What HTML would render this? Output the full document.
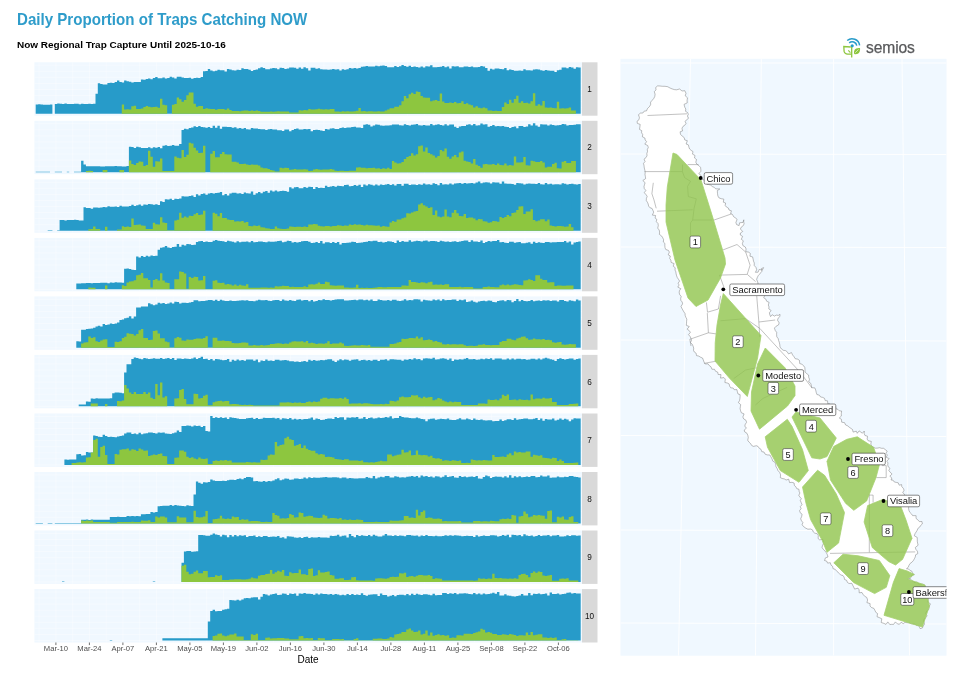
<!DOCTYPE html>
<html><head><meta charset="utf-8"><title>Daily Proportion of Traps Catching NOW</title>
<style>
html,body{margin:0;padding:0;background:#fff;}
body{width:970px;height:686px;overflow:hidden;position:relative;font-family:"Liberation Sans",Arial,sans-serif;}
h1{position:absolute;left:17px;top:11px;margin:0;font-size:15.7px;line-height:18px;font-weight:bold;color:#2e9cca;white-space:nowrap;transform:scaleX(0.9628);transform-origin:0 0;}
h2{position:absolute;left:17px;top:39px;margin:0;font-size:9.97px;line-height:12px;font-weight:bold;color:#000;white-space:nowrap;}
svg{position:absolute;left:0;top:0;}
svg text{font-family:"Liberation Sans",Arial,sans-serif;}
</style></head><body>
<h1>Daily Proportion of Traps Catching NOW</h1>
<h2>Now Regional Trap Capture Until 2025-10-16</h2>
<svg width="970" height="686" viewBox="0 0 970 686">
<rect x="34.4" y="62.3" width="547.6" height="53.4" fill="#f0f8ff"/>
<path d="M39.1,62.3V115.7M55.9,62.3V115.7M72.7,62.3V115.7M89.4,62.3V115.7M106.2,62.3V115.7M122.9,62.3V115.7M139.7,62.3V115.7M156.4,62.3V115.7M173.2,62.3V115.7M189.9,62.3V115.7M206.7,62.3V115.7M223.4,62.3V115.7M240.2,62.3V115.7M256.9,62.3V115.7M273.6,62.3V115.7M290.4,62.3V115.7M307.1,62.3V115.7M323.9,62.3V115.7M340.6,62.3V115.7M357.4,62.3V115.7M374.1,62.3V115.7M390.9,62.3V115.7M407.6,62.3V115.7M424.4,62.3V115.7M441.1,62.3V115.7M457.9,62.3V115.7M474.6,62.3V115.7M491.4,62.3V115.7M508.1,62.3V115.7M524.9,62.3V115.7M541.6,62.3V115.7M558.4,62.3V115.7M575.1,62.3V115.7M34.4,113.7H582.0M34.4,107.6H582.0M34.4,101.6H582.0M34.4,95.5H582.0M34.4,89.5H582.0M34.4,83.4H582.0M34.4,77.3H582.0M34.4,71.3H582.0M34.4,65.2H582.0" stroke="#fff" stroke-width="0.6" fill="none" opacity="0.6"/>
<path d="M35.7,113.7L35.7,104.5L38.1,104.5L38.1,104.3L40.5,104.3L40.5,104.4L42.9,104.4L42.9,104.7L45.3,104.7L45.3,104.7L47.7,104.7L47.7,104.7L50.0,104.7L50.0,104.5L52.4,104.5L52.4,113.7ZM54.8,113.7L54.8,104.1L57.2,104.1L57.2,103.4L59.6,103.4L59.6,103.8L62.0,103.8L62.0,104.1L64.4,104.1L64.4,103.6L66.8,103.6L66.8,104.1L69.2,104.1L69.2,104.0L71.6,104.0L71.6,104.1L73.9,104.1L73.9,103.8L76.3,103.8L76.3,103.8L78.7,103.8L78.7,104.2L81.1,104.2L81.1,103.7L83.5,103.7L83.5,104.0L85.9,104.0L85.9,103.9L88.3,103.9L88.3,103.7L90.7,103.7L90.7,104.0L93.1,104.0L93.1,103.8L95.5,103.8L95.5,93.7L97.8,93.7L97.8,83.2L100.2,83.2L100.2,84.1L102.6,84.1L102.6,84.4L105.0,84.4L105.0,84.5L107.4,84.5L107.4,83.1L109.8,83.1L109.8,82.8L112.2,82.8L112.2,83.0L114.6,83.0L114.6,82.0L117.0,82.0L117.0,80.6L119.4,80.6L119.4,82.0L121.8,82.0L121.8,82.6L124.1,82.6L124.1,80.6L126.5,80.6L126.5,81.2L128.9,81.2L128.9,81.8L131.3,81.8L131.3,82.4L133.7,82.4L133.7,82.0L136.1,82.0L136.1,82.1L138.5,82.1L138.5,81.9L140.9,81.9L140.9,79.4L143.3,79.4L143.3,79.8L145.7,79.8L145.7,78.9L148.0,78.9L148.0,78.4L150.4,78.4L150.4,79.2L152.8,79.2L152.8,78.1L155.2,78.1L155.2,77.1L157.6,77.1L157.6,78.3L160.0,78.3L160.0,78.2L162.4,78.2L162.4,77.6L164.8,77.6L164.8,78.5L167.2,78.5L167.2,77.9L169.6,77.9L169.6,76.8L171.9,76.8L171.9,77.5L174.3,77.5L174.3,78.5L176.7,78.5L176.7,76.8L179.1,76.8L179.1,76.8L181.5,76.8L181.5,77.6L183.9,77.6L183.9,78.0L186.3,78.0L186.3,78.1L188.7,78.1L188.7,77.8L191.1,77.8L191.1,78.8L193.5,78.8L193.5,78.0L195.9,78.0L195.9,77.8L198.2,77.8L198.2,77.9L200.6,77.9L200.6,76.9L203.0,76.9L203.0,71.2L205.4,71.2L205.4,70.9L207.8,70.9L207.8,69.1L210.2,69.1L210.2,70.6L212.6,70.6L212.6,71.2L215.0,71.2L215.0,70.7L217.4,70.7L217.4,69.8L219.8,69.8L219.8,70.2L222.1,70.2L222.1,70.2L224.5,70.2L224.5,71.4L226.9,71.4L226.9,69.1L229.3,69.1L229.3,69.4L231.7,69.4L231.7,70.3L234.1,70.3L234.1,70.4L236.5,70.4L236.5,69.7L238.9,69.7L238.9,70.0L241.3,70.0L241.3,68.2L243.7,68.2L243.7,68.9L246.0,68.9L246.0,68.9L248.4,68.9L248.4,69.8L250.8,69.8L250.8,70.9L253.2,70.9L253.2,70.0L255.6,70.0L255.6,69.6L258.0,69.6L258.0,68.3L260.4,68.3L260.4,67.3L262.8,67.3L262.8,68.1L265.2,68.1L265.2,69.3L267.6,69.3L267.6,69.3L269.9,69.3L269.9,68.5L272.3,68.5L272.3,68.0L274.7,68.0L274.7,68.3L277.1,68.3L277.1,69.2L279.5,69.2L279.5,67.8L281.9,67.8L281.9,68.0L284.3,68.0L284.3,68.9L286.7,68.9L286.7,68.6L289.1,68.6L289.1,67.5L291.5,67.5L291.5,67.5L293.9,67.5L293.9,67.8L296.2,67.8L296.2,68.8L298.6,68.8L298.6,67.5L301.0,67.5L301.0,68.7L303.4,68.7L303.4,67.2L305.8,67.2L305.8,68.3L308.2,68.3L308.2,70.5L310.6,70.5L310.6,67.8L313.0,67.8L313.0,67.7L315.4,67.7L315.4,68.8L317.8,68.8L317.8,68.2L320.1,68.2L320.1,69.3L322.5,69.3L322.5,69.4L324.9,69.4L324.9,69.4L327.3,69.4L327.3,69.7L329.7,69.7L329.7,69.4L332.1,69.4L332.1,69.0L334.5,69.0L334.5,69.4L336.9,69.4L336.9,69.3L339.3,69.3L339.3,70.6L341.7,70.6L341.7,69.3L344.0,69.3L344.0,69.8L346.4,69.8L346.4,69.3L348.8,69.3L348.8,68.1L351.2,68.1L351.2,68.5L353.6,68.5L353.6,67.9L356.0,67.9L356.0,68.4L358.4,68.4L358.4,68.0L360.8,68.0L360.8,66.8L363.2,66.8L363.2,66.5L365.6,66.5L365.6,65.9L368.0,65.9L368.0,66.4L370.3,66.4L370.3,66.5L372.7,66.5L372.7,66.6L375.1,66.6L375.1,65.7L377.5,65.7L377.5,66.2L379.9,66.2L379.9,65.8L382.3,65.8L382.3,65.6L384.7,65.6L384.7,66.0L387.1,66.0L387.1,67.2L389.5,67.2L389.5,67.3L391.9,67.3L391.9,67.3L394.2,67.3L394.2,66.1L396.6,66.1L396.6,67.1L399.0,67.1L399.0,66.3L401.4,66.3L401.4,65.0L403.8,65.0L403.8,66.1L406.2,66.1L406.2,66.7L408.6,66.7L408.6,65.7L411.0,65.7L411.0,67.1L413.4,67.1L413.4,66.5L415.8,66.5L415.8,67.1L418.1,67.1L418.1,67.5L420.5,67.5L420.5,66.5L422.9,66.5L422.9,67.4L425.3,67.4L425.3,66.3L427.7,66.3L427.7,66.4L430.1,66.4L430.1,65.2L432.5,65.2L432.5,67.2L434.9,67.2L434.9,67.3L437.3,67.3L437.3,66.9L439.7,66.9L439.7,66.7L442.1,66.7L442.1,66.0L444.4,66.0L444.4,67.2L446.8,67.2L446.8,66.4L449.2,66.4L449.2,68.6L451.6,68.6L451.6,66.2L454.0,66.2L454.0,66.4L456.4,66.4L456.4,66.3L458.8,66.3L458.8,67.3L461.2,67.3L461.2,67.3L463.6,67.3L463.6,66.6L466.0,66.6L466.0,66.5L468.3,66.5L468.3,66.9L470.7,66.9L470.7,66.5L473.1,66.5L473.1,67.2L475.5,67.2L475.5,67.3L477.9,67.3L477.9,66.9L480.3,66.9L480.3,66.1L482.7,66.1L482.7,66.6L485.1,66.6L485.1,68.1L487.5,68.1L487.5,70.8L489.9,70.8L489.9,68.7L492.2,68.7L492.2,69.6L494.6,69.6L494.6,68.4L497.0,68.4L497.0,68.6L499.4,68.6L499.4,69.1L501.8,69.1L501.8,69.3L504.2,69.3L504.2,67.9L506.6,67.9L506.6,70.2L509.0,70.2L509.0,69.6L511.4,69.6L511.4,70.1L513.8,70.1L513.8,70.7L516.2,70.7L516.2,70.7L518.5,70.7L518.5,70.4L520.9,70.4L520.9,70.7L523.3,70.7L523.3,69.3L525.7,69.3L525.7,70.3L528.1,70.3L528.1,70.3L530.5,70.3L530.5,70.5L532.9,70.5L532.9,69.5L535.3,69.5L535.3,69.2L537.7,69.2L537.7,69.5L540.1,69.5L540.1,70.3L542.4,70.3L542.4,70.8L544.8,70.8L544.8,70.0L547.2,70.0L547.2,70.5L549.6,70.5L549.6,70.8L552.0,70.8L552.0,70.7L554.4,70.7L554.4,72.0L556.8,72.0L556.8,70.3L559.2,70.3L559.2,69.8L561.6,69.8L561.6,67.5L564.0,67.5L564.0,67.6L566.3,67.6L566.3,68.2L568.7,68.2L568.7,67.1L571.1,67.1L571.1,67.6L573.5,67.6L573.5,68.7L575.9,68.7L575.9,67.3L578.3,67.3L578.3,67.6L580.7,67.6L580.7,113.7Z" fill="#279bc9"/>
<path d="M121.8,113.7L121.8,104.6L124.1,104.6L124.1,109.4L126.5,109.4L126.5,109.2L128.9,109.2L128.9,109.4L131.3,109.4L131.3,106.3L133.7,106.3L133.7,105.7L136.1,105.7L136.1,109.0L138.5,109.0L138.5,109.0L140.9,109.0L140.9,108.5L143.3,108.5L143.3,107.0L145.7,107.0L145.7,105.9L148.0,105.9L148.0,106.8L150.4,106.8L150.4,107.2L152.8,107.2L152.8,107.0L155.2,107.0L155.2,106.8L157.6,106.8L157.6,107.8L160.0,107.8L160.0,98.8L162.4,98.8L162.4,104.7L164.8,104.7L164.8,105.2L167.2,105.2L167.2,113.7ZM171.9,113.7L171.9,104.7L174.3,104.7L174.3,104.1L176.7,104.1L176.7,97.6L179.1,97.6L179.1,99.3L181.5,99.3L181.5,101.8L183.9,101.8L183.9,99.9L186.3,99.9L186.3,95.3L188.7,95.3L188.7,92.5L191.1,92.5L191.1,92.5L193.5,92.5L193.5,103.7L195.9,103.7L195.9,106.7L198.2,106.7L198.2,106.0L200.6,106.0L200.6,105.9L203.0,105.9L203.0,109.1L205.4,109.1L205.4,108.2L207.8,108.2L207.8,108.7L210.2,108.7L210.2,108.9L212.6,108.9L212.6,108.9L215.0,108.9L215.0,109.8L217.4,109.8L217.4,109.0L219.8,109.0L219.8,109.1L222.1,109.1L222.1,109.1L224.5,109.1L224.5,109.7L226.9,109.7L226.9,108.6L229.3,108.6L229.3,109.9L231.7,109.9L231.7,110.9L234.1,110.9L234.1,111.1L236.5,111.1L236.5,111.0L238.9,111.0L238.9,111.2L241.3,111.2L241.3,110.7L243.7,110.7L243.7,110.6L246.0,110.6L246.0,110.6L248.4,110.6L248.4,110.9L250.8,110.9L250.8,110.6L253.2,110.6L253.2,111.0L255.6,111.0L255.6,110.5L258.0,110.5L258.0,111.1L260.4,111.1L260.4,111.8L262.8,111.8L262.8,111.8L265.2,111.8L265.2,111.7L267.6,111.7L267.6,111.8L269.9,111.8L269.9,111.5L272.3,111.5L272.3,111.7L274.7,111.7L274.7,111.5L277.1,111.5L277.1,111.2L279.5,111.2L279.5,111.6L281.9,111.6L281.9,111.6L284.3,111.6L284.3,111.4L286.7,111.4L286.7,111.5L289.1,111.5L289.1,112.6L291.5,112.6L291.5,112.6L293.9,112.6L293.9,112.6L296.2,112.6L296.2,112.6L298.6,112.6L298.6,110.3L301.0,110.3L301.0,110.4L303.4,110.4L303.4,109.9L305.8,109.9L305.8,110.2L308.2,110.2L308.2,109.1L310.6,109.1L310.6,109.5L313.0,109.5L313.0,109.5L315.4,109.5L315.4,109.2L317.8,109.2L317.8,108.8L320.1,108.8L320.1,109.2L322.5,109.2L322.5,109.5L324.9,109.5L324.9,109.3L327.3,109.3L327.3,109.4L329.7,109.4L329.7,109.1L332.1,109.1L332.1,108.9L334.5,108.9L334.5,111.5L336.9,111.5L336.9,111.5L339.3,111.5L339.3,111.7L341.7,111.7L341.7,111.2L344.0,111.2L344.0,111.4L346.4,111.4L346.4,111.3L348.8,111.3L348.8,111.5L351.2,111.5L351.2,111.5L353.6,111.5L353.6,111.2L356.0,111.2L356.0,110.8L358.4,110.8L358.4,108.1L360.8,108.1L360.8,111.2L363.2,111.2L363.2,110.9L365.6,110.9L365.6,111.5L368.0,111.5L368.0,111.3L370.3,111.3L370.3,111.2L372.7,111.2L372.7,111.6L375.1,111.6L375.1,111.4L377.5,111.4L377.5,111.2L379.9,111.2L379.9,111.4L382.3,111.4L382.3,111.5L384.7,111.5L384.7,110.5L387.1,110.5L387.1,109.6L389.5,109.6L389.5,108.3L391.9,108.3L391.9,108.2L394.2,108.2L394.2,106.7L396.6,106.7L396.6,106.8L399.0,106.8L399.0,105.3L401.4,105.3L401.4,101.3L403.8,101.3L403.8,96.0L406.2,96.0L406.2,98.3L408.6,98.3L408.6,94.2L411.0,94.2L411.0,92.7L413.4,92.7L413.4,93.9L415.8,93.9L415.8,91.6L418.1,91.6L418.1,92.0L420.5,92.0L420.5,96.0L422.9,96.0L422.9,97.5L425.3,97.5L425.3,97.8L427.7,97.8L427.7,97.7L430.1,97.7L430.1,101.2L432.5,101.2L432.5,100.4L434.9,100.4L434.9,100.1L437.3,100.1L437.3,100.9L439.7,100.9L439.7,93.4L442.1,93.4L442.1,101.6L444.4,101.6L444.4,103.1L446.8,103.1L446.8,102.9L449.2,102.9L449.2,102.4L451.6,102.4L451.6,103.0L454.0,103.0L454.0,101.9L456.4,101.9L456.4,103.2L458.8,103.2L458.8,103.1L461.2,103.1L461.2,101.2L463.6,101.2L463.6,104.1L466.0,104.1L466.0,103.2L468.3,103.2L468.3,104.6L470.7,104.6L470.7,105.2L473.1,105.2L473.1,107.4L475.5,107.4L475.5,106.3L477.9,106.3L477.9,107.8L480.3,107.8L480.3,108.2L482.7,108.2L482.7,107.4L485.1,107.4L485.1,108.3L487.5,108.3L487.5,110.6L489.9,110.6L489.9,110.6L492.2,110.6L492.2,111.0L494.6,111.0L494.6,110.7L497.0,110.7L497.0,111.1L499.4,111.1L499.4,110.9L501.8,110.9L501.8,106.9L504.2,106.9L504.2,102.6L506.6,102.6L506.6,104.1L509.0,104.1L509.0,99.7L511.4,99.7L511.4,102.7L513.8,102.7L513.8,98.9L516.2,98.9L516.2,95.8L518.5,95.8L518.5,102.8L520.9,102.8L520.9,101.2L523.3,101.2L523.3,103.0L525.7,103.0L525.7,102.8L528.1,102.8L528.1,103.6L530.5,103.6L530.5,101.3L532.9,101.3L532.9,93.2L535.3,93.2L535.3,105.7L537.7,105.7L537.7,104.3L540.1,104.3L540.1,105.4L542.4,105.4L542.4,101.1L544.8,101.1L544.8,107.5L547.2,107.5L547.2,107.7L549.6,107.7L549.6,107.6L552.0,107.6L552.0,107.9L554.4,107.9L554.4,108.3L556.8,108.3L556.8,101.7L559.2,101.7L559.2,108.4L561.6,108.4L561.6,108.3L564.0,108.3L564.0,108.6L566.3,108.6L566.3,108.2L568.7,108.2L568.7,107.6L571.1,107.6L571.1,110.5L573.5,110.5L573.5,110.6L575.9,110.6L575.9,113.7Z" fill="#8dc63f"/>
<rect x="582.0" y="62.3" width="15.5" height="53.4" fill="#d9d9d9"/>
<text x="589.5" y="91.9" font-size="8.2" fill="#111" text-anchor="middle">1</text>
<rect x="34.4" y="120.8" width="547.6" height="53.4" fill="#f0f8ff"/>
<path d="M39.1,120.8V174.2M55.9,120.8V174.2M72.7,120.8V174.2M89.4,120.8V174.2M106.2,120.8V174.2M122.9,120.8V174.2M139.7,120.8V174.2M156.4,120.8V174.2M173.2,120.8V174.2M189.9,120.8V174.2M206.7,120.8V174.2M223.4,120.8V174.2M240.2,120.8V174.2M256.9,120.8V174.2M273.6,120.8V174.2M290.4,120.8V174.2M307.1,120.8V174.2M323.9,120.8V174.2M340.6,120.8V174.2M357.4,120.8V174.2M374.1,120.8V174.2M390.9,120.8V174.2M407.6,120.8V174.2M424.4,120.8V174.2M441.1,120.8V174.2M457.9,120.8V174.2M474.6,120.8V174.2M491.4,120.8V174.2M508.1,120.8V174.2M524.9,120.8V174.2M541.6,120.8V174.2M558.4,120.8V174.2M575.1,120.8V174.2M34.4,172.2H582.0M34.4,166.2H582.0M34.4,160.1H582.0M34.4,154.0H582.0M34.4,148.0H582.0M34.4,141.9H582.0M34.4,135.9H582.0M34.4,129.8H582.0M34.4,123.7H582.0" stroke="#fff" stroke-width="0.6" fill="none" opacity="0.6"/>
<path d="M35.7,172.2L35.7,171.7L38.1,171.7L38.1,171.7L40.5,171.7L40.5,171.7L42.9,171.7L42.9,171.7L45.3,171.7L45.3,171.7L47.7,171.7L47.7,171.7L50.0,171.7L50.0,172.2ZM54.8,172.2L54.8,171.7L57.2,171.7L57.2,171.7L59.6,171.7L59.6,171.7L62.0,171.7L62.0,172.2ZM66.8,172.2L66.8,171.7L69.2,171.7L69.2,172.2ZM73.9,172.2L73.9,171.7L76.3,171.7L76.3,171.7L78.7,171.7L78.7,171.7L81.1,171.7L81.1,160.8L83.5,160.8L83.5,164.5L85.9,164.5L85.9,166.3L88.3,166.3L88.3,166.2L90.7,166.2L90.7,166.3L93.1,166.3L93.1,166.2L95.5,166.2L95.5,166.3L97.8,166.3L97.8,166.2L100.2,166.2L100.2,166.4L102.6,166.4L102.6,166.5L105.0,166.5L105.0,166.3L107.4,166.3L107.4,166.2L109.8,166.2L109.8,166.3L112.2,166.3L112.2,166.2L114.6,166.2L114.6,166.1L117.0,166.1L117.0,166.3L119.4,166.3L119.4,166.2L121.8,166.2L121.8,166.5L124.1,166.5L124.1,166.5L126.5,166.5L126.5,166.1L128.9,166.1L128.9,146.8L131.3,146.8L131.3,146.9L133.7,146.9L133.7,147.9L136.1,147.9L136.1,146.7L138.5,146.7L138.5,147.3L140.9,147.3L140.9,148.0L143.3,148.0L143.3,148.1L145.7,148.1L145.7,147.9L148.0,147.9L148.0,147.2L150.4,147.2L150.4,148.3L152.8,148.3L152.8,147.2L155.2,147.2L155.2,147.8L157.6,147.8L157.6,147.0L160.0,147.0L160.0,148.2L162.4,148.2L162.4,145.7L164.8,145.7L164.8,145.3L167.2,145.3L167.2,146.1L169.6,146.1L169.6,145.7L171.9,145.7L171.9,144.9L174.3,144.9L174.3,145.8L176.7,145.8L176.7,145.7L179.1,145.7L179.1,144.0L181.5,144.0L181.5,130.0L183.9,130.0L183.9,128.7L186.3,128.7L186.3,129.3L188.7,129.3L188.7,128.0L191.1,128.0L191.1,127.4L193.5,127.4L193.5,126.3L195.9,126.3L195.9,127.0L198.2,127.0L198.2,126.0L200.6,126.0L200.6,126.9L203.0,126.9L203.0,127.3L205.4,127.3L205.4,127.7L207.8,127.7L207.8,127.1L210.2,127.1L210.2,127.9L212.6,127.9L212.6,125.8L215.0,125.8L215.0,127.8L217.4,127.8L217.4,125.7L219.8,125.7L219.8,128.7L222.1,128.7L222.1,126.7L224.5,126.7L224.5,126.8L226.9,126.8L226.9,127.0L229.3,127.0L229.3,127.1L231.7,127.1L231.7,127.8L234.1,127.8L234.1,127.2L236.5,127.2L236.5,128.4L238.9,128.4L238.9,128.0L241.3,128.0L241.3,128.8L243.7,128.8L243.7,127.9L246.0,127.9L246.0,129.2L248.4,129.2L248.4,129.4L250.8,129.4L250.8,128.0L253.2,128.0L253.2,128.6L255.6,128.6L255.6,128.6L258.0,128.6L258.0,129.1L260.4,129.1L260.4,129.2L262.8,129.2L262.8,129.2L265.2,129.2L265.2,130.0L267.6,130.0L267.6,129.3L269.9,129.3L269.9,128.9L272.3,128.9L272.3,129.5L274.7,129.5L274.7,129.6L277.1,129.6L277.1,130.2L279.5,130.2L279.5,130.3L281.9,130.3L281.9,131.0L284.3,131.0L284.3,129.6L286.7,129.6L286.7,129.5L289.1,129.5L289.1,131.2L291.5,131.2L291.5,129.9L293.9,129.9L293.9,129.1L296.2,129.1L296.2,128.4L298.6,128.4L298.6,129.5L301.0,129.5L301.0,129.5L303.4,129.5L303.4,129.0L305.8,129.0L305.8,129.2L308.2,129.2L308.2,129.1L310.6,129.1L310.6,131.2L313.0,131.2L313.0,130.0L315.4,130.0L315.4,129.8L317.8,129.8L317.8,129.9L320.1,129.9L320.1,130.5L322.5,130.5L322.5,131.0L324.9,131.0L324.9,128.9L327.3,128.9L327.3,129.6L329.7,129.6L329.7,128.4L332.1,128.4L332.1,128.3L334.5,128.3L334.5,129.0L336.9,129.0L336.9,129.0L339.3,129.0L339.3,128.0L341.7,128.0L341.7,127.5L344.0,127.5L344.0,127.9L346.4,127.9L346.4,127.6L348.8,127.6L348.8,127.5L351.2,127.5L351.2,127.1L353.6,127.1L353.6,126.7L356.0,126.7L356.0,127.6L358.4,127.6L358.4,127.4L360.8,127.4L360.8,128.0L363.2,128.0L363.2,124.8L365.6,124.8L365.6,124.2L368.0,124.2L368.0,124.7L370.3,124.7L370.3,126.4L372.7,126.4L372.7,125.6L375.1,125.6L375.1,124.6L377.5,124.6L377.5,124.8L379.9,124.8L379.9,125.4L382.3,125.4L382.3,125.8L384.7,125.8L384.7,125.6L387.1,125.6L387.1,125.5L389.5,125.5L389.5,125.3L391.9,125.3L391.9,124.6L394.2,124.6L394.2,124.6L396.6,124.6L396.6,124.5L399.0,124.5L399.0,125.2L401.4,125.2L401.4,125.5L403.8,125.5L403.8,124.2L406.2,124.2L406.2,125.0L408.6,125.0L408.6,125.6L411.0,125.6L411.0,124.7L413.4,124.7L413.4,124.6L415.8,124.6L415.8,124.1L418.1,124.1L418.1,125.2L420.5,125.2L420.5,125.6L422.9,125.6L422.9,125.0L425.3,125.0L425.3,125.6L427.7,125.6L427.7,125.6L430.1,125.6L430.1,124.1L432.5,124.1L432.5,125.3L434.9,125.3L434.9,124.8L437.3,124.8L437.3,124.3L439.7,124.3L439.7,125.1L442.1,125.1L442.1,125.6L444.4,125.6L444.4,124.3L446.8,124.3L446.8,125.6L449.2,125.6L449.2,124.4L451.6,124.4L451.6,124.4L454.0,124.4L454.0,126.7L456.4,126.7L456.4,128.0L458.8,128.0L458.8,126.5L461.2,126.5L461.2,125.9L463.6,125.9L463.6,125.9L466.0,125.9L466.0,124.7L468.3,124.7L468.3,124.3L470.7,124.3L470.7,125.2L473.1,125.2L473.1,124.0L475.5,124.0L475.5,125.5L477.9,125.5L477.9,125.2L480.3,125.2L480.3,123.5L482.7,123.5L482.7,124.4L485.1,124.4L485.1,124.2L487.5,124.2L487.5,126.7L489.9,126.7L489.9,126.0L492.2,126.0L492.2,125.0L494.6,125.0L494.6,126.3L497.0,126.3L497.0,125.9L499.4,125.9L499.4,126.3L501.8,126.3L501.8,126.1L504.2,126.1L504.2,126.7L506.6,126.7L506.6,126.9L509.0,126.9L509.0,128.1L511.4,128.1L511.4,126.9L513.8,126.9L513.8,126.5L516.2,126.5L516.2,128.3L518.5,128.3L518.5,125.9L520.9,125.9L520.9,125.9L523.3,125.9L523.3,127.0L525.7,127.0L525.7,126.5L528.1,126.5L528.1,124.3L530.5,124.3L530.5,125.5L532.9,125.5L532.9,123.2L535.3,123.2L535.3,125.5L537.7,125.5L537.7,126.8L540.1,126.8L540.1,124.2L542.4,124.2L542.4,124.6L544.8,124.6L544.8,124.6L547.2,124.6L547.2,125.5L549.6,125.5L549.6,124.4L552.0,124.4L552.0,125.1L554.4,125.1L554.4,125.6L556.8,125.6L556.8,125.2L559.2,125.2L559.2,125.0L561.6,125.0L561.6,124.0L564.0,124.0L564.0,124.2L566.3,124.2L566.3,125.6L568.7,125.6L568.7,124.9L571.1,124.9L571.1,125.1L573.5,125.1L573.5,124.7L575.9,124.7L575.9,124.2L578.3,124.2L578.3,124.3L580.7,124.3L580.7,172.2Z" fill="#279bc9"/>
<path d="M85.9,172.2L85.9,171.0L88.3,171.0L88.3,170.7L90.7,170.7L90.7,171.0L93.1,171.0L93.1,172.2ZM102.6,172.2L102.6,170.0L105.0,170.0L105.0,170.1L107.4,170.1L107.4,172.2ZM119.4,172.2L119.4,170.0L121.8,170.0L121.8,170.1L124.1,170.1L124.1,172.2ZM128.9,172.2L128.9,160.6L131.3,160.6L131.3,163.9L133.7,163.9L133.7,165.0L136.1,165.0L136.1,163.0L138.5,163.0L138.5,161.6L140.9,161.6L140.9,161.7L143.3,161.7L143.3,165.9L145.7,165.9L145.7,165.1L148.0,165.1L148.0,150.8L150.4,150.8L150.4,156.8L152.8,156.8L152.8,166.7L155.2,166.7L155.2,161.2L157.6,161.2L157.6,161.6L160.0,161.6L160.0,158.5L162.4,158.5L162.4,171.1L164.8,171.1L164.8,171.1L167.2,171.1L167.2,171.1L169.6,171.1L169.6,171.1L171.9,171.1L171.9,171.1L174.3,171.1L174.3,156.4L176.7,156.4L176.7,157.7L179.1,157.7L179.1,158.3L181.5,158.3L181.5,149.9L183.9,149.9L183.9,157.0L186.3,157.0L186.3,154.8L188.7,154.8L188.7,142.8L191.1,142.8L191.1,143.6L193.5,143.6L193.5,147.7L195.9,147.7L195.9,150.6L198.2,150.6L198.2,153.1L200.6,153.1L200.6,152.7L203.0,152.7L203.0,145.7L205.4,145.7L205.4,172.2ZM210.2,172.2L210.2,153.7L212.6,153.7L212.6,150.9L215.0,150.9L215.0,157.2L217.4,157.2L217.4,157.2L219.8,157.2L219.8,154.0L222.1,154.0L222.1,152.0L224.5,152.0L224.5,154.2L226.9,154.2L226.9,154.6L229.3,154.6L229.3,154.6L231.7,154.6L231.7,161.8L234.1,161.8L234.1,161.7L236.5,161.7L236.5,162.5L238.9,162.5L238.9,164.1L241.3,164.1L241.3,164.1L243.7,164.1L243.7,163.7L246.0,163.7L246.0,164.5L248.4,164.5L248.4,164.9L250.8,164.9L250.8,164.6L253.2,164.6L253.2,164.7L255.6,164.7L255.6,164.8L258.0,164.8L258.0,165.4L260.4,165.4L260.4,167.5L262.8,167.5L262.8,168.3L265.2,168.3L265.2,168.3L267.6,168.3L267.6,169.1L269.9,169.1L269.9,169.9L272.3,169.9L272.3,170.4L274.7,170.4L274.7,171.4L277.1,171.4L277.1,171.4L279.5,171.4L279.5,167.8L281.9,167.8L281.9,168.3L284.3,168.3L284.3,167.7L286.7,167.7L286.7,168.0L289.1,168.0L289.1,169.7L291.5,169.7L291.5,169.6L293.9,169.6L293.9,169.1L296.2,169.1L296.2,169.6L298.6,169.6L298.6,169.4L301.0,169.4L301.0,169.4L303.4,169.4L303.4,169.2L305.8,169.2L305.8,169.5L308.2,169.5L308.2,170.9L310.6,170.9L310.6,170.8L313.0,170.8L313.0,169.6L315.4,169.6L315.4,168.9L317.8,168.9L317.8,169.5L320.1,169.5L320.1,169.7L322.5,169.7L322.5,169.4L324.9,169.4L324.9,169.5L327.3,169.5L327.3,169.6L329.7,169.6L329.7,169.1L332.1,169.1L332.1,169.6L334.5,169.6L334.5,170.8L336.9,170.8L336.9,170.9L339.3,170.9L339.3,170.7L341.7,170.7L341.7,170.8L344.0,170.8L344.0,170.9L346.4,170.9L346.4,170.9L348.8,170.9L348.8,170.7L351.2,170.7L351.2,170.8L353.6,170.8L353.6,170.8L356.0,170.8L356.0,167.4L358.4,167.4L358.4,167.3L360.8,167.3L360.8,167.8L363.2,167.8L363.2,167.8L365.6,167.8L365.6,168.2L368.0,168.2L368.0,167.9L370.3,167.9L370.3,167.9L372.7,167.9L372.7,167.8L375.1,167.8L375.1,168.4L377.5,168.4L377.5,168.2L379.9,168.2L379.9,168.9L382.3,168.9L382.3,168.2L384.7,168.2L384.7,168.8L387.1,168.8L387.1,167.7L389.5,167.7L389.5,168.9L391.9,168.9L391.9,161.1L394.2,161.1L394.2,162.4L396.6,162.4L396.6,163.4L399.0,163.4L399.0,163.2L401.4,163.2L401.4,162.0L403.8,162.0L403.8,159.1L406.2,159.1L406.2,156.9L408.6,156.9L408.6,155.9L411.0,155.9L411.0,153.2L413.4,153.2L413.4,155.6L415.8,155.6L415.8,154.2L418.1,154.2L418.1,146.2L420.5,146.2L420.5,145.5L422.9,145.5L422.9,151.6L425.3,151.6L425.3,147.5L427.7,147.5L427.7,153.0L430.1,153.0L430.1,154.2L432.5,154.2L432.5,155.6L434.9,155.6L434.9,157.6L437.3,157.6L437.3,155.9L439.7,155.9L439.7,149.9L442.1,149.9L442.1,151.3L444.4,151.3L444.4,148.5L446.8,148.5L446.8,156.8L449.2,156.8L449.2,158.8L451.6,158.8L451.6,156.6L454.0,156.6L454.0,155.0L456.4,155.0L456.4,157.2L458.8,157.2L458.8,152.6L461.2,152.6L461.2,151.4L463.6,151.4L463.6,160.8L466.0,160.8L466.0,161.5L468.3,161.5L468.3,162.0L470.7,162.0L470.7,163.4L473.1,163.4L473.1,158.9L475.5,158.9L475.5,164.7L477.9,164.7L477.9,166.1L480.3,166.1L480.3,167.8L482.7,167.8L482.7,164.3L485.1,164.3L485.1,164.0L487.5,164.0L487.5,164.6L489.9,164.6L489.9,164.6L492.2,164.6L492.2,164.1L494.6,164.1L494.6,165.1L497.0,165.1L497.0,163.6L499.4,163.6L499.4,165.1L501.8,165.1L501.8,165.2L504.2,165.2L504.2,163.6L506.6,163.6L506.6,165.5L509.0,165.5L509.0,165.1L511.4,165.1L511.4,165.5L513.8,165.5L513.8,156.6L516.2,156.6L516.2,162.5L518.5,162.5L518.5,162.5L520.9,162.5L520.9,162.3L523.3,162.3L523.3,157.0L525.7,157.0L525.7,165.3L528.1,165.3L528.1,165.5L530.5,165.5L530.5,160.7L532.9,160.7L532.9,161.3L535.3,161.3L535.3,161.9L537.7,161.9L537.7,161.9L540.1,161.9L540.1,161.1L542.4,161.1L542.4,162.5L544.8,162.5L544.8,167.6L547.2,167.6L547.2,166.8L549.6,166.8L549.6,166.7L552.0,166.7L552.0,163.9L554.4,163.9L554.4,162.7L556.8,162.7L556.8,168.2L559.2,168.2L559.2,168.6L561.6,168.6L561.6,161.7L564.0,161.7L564.0,160.9L566.3,160.9L566.3,163.1L568.7,163.1L568.7,162.9L571.1,162.9L571.1,161.1L573.5,161.1L573.5,161.0L575.9,161.0L575.9,172.2Z" fill="#8dc63f"/>
<rect x="582.0" y="120.8" width="15.5" height="53.4" fill="#d9d9d9"/>
<text x="589.5" y="150.4" font-size="8.2" fill="#111" text-anchor="middle">2</text>
<rect x="34.4" y="179.4" width="547.6" height="53.4" fill="#f0f8ff"/>
<path d="M39.1,179.4V232.8M55.9,179.4V232.8M72.7,179.4V232.8M89.4,179.4V232.8M106.2,179.4V232.8M122.9,179.4V232.8M139.7,179.4V232.8M156.4,179.4V232.8M173.2,179.4V232.8M189.9,179.4V232.8M206.7,179.4V232.8M223.4,179.4V232.8M240.2,179.4V232.8M256.9,179.4V232.8M273.6,179.4V232.8M290.4,179.4V232.8M307.1,179.4V232.8M323.9,179.4V232.8M340.6,179.4V232.8M357.4,179.4V232.8M374.1,179.4V232.8M390.9,179.4V232.8M407.6,179.4V232.8M424.4,179.4V232.8M441.1,179.4V232.8M457.9,179.4V232.8M474.6,179.4V232.8M491.4,179.4V232.8M508.1,179.4V232.8M524.9,179.4V232.8M541.6,179.4V232.8M558.4,179.4V232.8M575.1,179.4V232.8M34.4,230.8H582.0M34.4,224.7H582.0M34.4,218.6H582.0M34.4,212.6H582.0M34.4,206.5H582.0M34.4,200.4H582.0M34.4,194.4H582.0M34.4,188.3H582.0M34.4,182.3H582.0" stroke="#fff" stroke-width="0.6" fill="none" opacity="0.6"/>
<path d="M47.7,230.8L47.7,230.2L50.0,230.2L50.0,230.2L52.4,230.2L52.4,230.8ZM57.2,230.8L57.2,230.2L59.6,230.2L59.6,219.9L62.0,219.9L62.0,219.9L64.4,219.9L64.4,220.4L66.8,220.4L66.8,219.9L69.2,219.9L69.2,219.9L71.6,219.9L71.6,220.0L73.9,220.0L73.9,219.7L76.3,219.7L76.3,219.9L78.7,219.9L78.7,220.5L81.1,220.5L81.1,220.4L83.5,220.4L83.5,207.2L85.9,207.2L85.9,207.9L88.3,207.9L88.3,208.1L90.7,208.1L90.7,208.7L93.1,208.7L93.1,207.6L95.5,207.6L95.5,207.4L97.8,207.4L97.8,207.8L100.2,207.8L100.2,207.4L102.6,207.4L102.6,206.9L105.0,206.9L105.0,207.2L107.4,207.2L107.4,206.2L109.8,206.2L109.8,206.8L112.2,206.8L112.2,206.7L114.6,206.7L114.6,206.4L117.0,206.4L117.0,206.9L119.4,206.9L119.4,205.8L121.8,205.8L121.8,206.4L124.1,206.4L124.1,206.6L126.5,206.6L126.5,206.6L128.9,206.6L128.9,206.1L131.3,206.1L131.3,204.8L133.7,204.8L133.7,206.1L136.1,206.1L136.1,205.3L138.5,205.3L138.5,204.5L140.9,204.5L140.9,205.8L143.3,205.8L143.3,204.4L145.7,204.4L145.7,204.7L148.0,204.7L148.0,204.1L150.4,204.1L150.4,204.3L152.8,204.3L152.8,204.8L155.2,204.8L155.2,204.3L157.6,204.3L157.6,204.9L160.0,204.9L160.0,201.3L162.4,201.3L162.4,201.9L164.8,201.9L164.8,199.3L167.2,199.3L167.2,199.6L169.6,199.6L169.6,198.7L171.9,198.7L171.9,199.9L174.3,199.9L174.3,198.7L176.7,198.7L176.7,199.1L179.1,199.1L179.1,198.6L181.5,198.6L181.5,196.3L183.9,196.3L183.9,196.6L186.3,196.6L186.3,196.4L188.7,196.4L188.7,195.9L191.1,195.9L191.1,195.6L193.5,195.6L193.5,197.1L195.9,197.1L195.9,194.2L198.2,194.2L198.2,195.5L200.6,195.5L200.6,194.1L203.0,194.1L203.0,193.4L205.4,193.4L205.4,194.8L207.8,194.8L207.8,193.4L210.2,193.4L210.2,192.9L212.6,192.9L212.6,193.4L215.0,193.4L215.0,193.1L217.4,193.1L217.4,192.8L219.8,192.8L219.8,192.1L222.1,192.1L222.1,195.3L224.5,195.3L224.5,194.0L226.9,194.0L226.9,195.5L229.3,195.5L229.3,193.4L231.7,193.4L231.7,192.7L234.1,192.7L234.1,192.8L236.5,192.8L236.5,193.4L238.9,193.4L238.9,193.3L241.3,193.3L241.3,194.0L243.7,194.0L243.7,192.4L246.0,192.4L246.0,193.2L248.4,193.2L248.4,193.4L250.8,193.4L250.8,191.5L253.2,191.5L253.2,194.8L255.6,194.8L255.6,193.2L258.0,193.2L258.0,192.0L260.4,192.0L260.4,193.2L262.8,193.2L262.8,191.8L265.2,191.8L265.2,191.0L267.6,191.0L267.6,192.7L269.9,192.7L269.9,190.5L272.3,190.5L272.3,191.4L274.7,191.4L274.7,190.5L277.1,190.5L277.1,191.4L279.5,191.4L279.5,191.1L281.9,191.1L281.9,190.7L284.3,190.7L284.3,191.1L286.7,191.1L286.7,191.7L289.1,191.7L289.1,187.2L291.5,187.2L291.5,188.4L293.9,188.4L293.9,187.2L296.2,187.2L296.2,187.0L298.6,187.0L298.6,188.2L301.0,188.2L301.0,188.3L303.4,188.3L303.4,187.0L305.8,187.0L305.8,187.7L308.2,187.7L308.2,186.8L310.6,186.8L310.6,187.1L313.0,187.1L313.0,189.1L315.4,189.1L315.4,186.9L317.8,186.9L317.8,187.9L320.1,187.9L320.1,187.7L322.5,187.7L322.5,187.9L324.9,187.9L324.9,185.8L327.3,185.8L327.3,186.9L329.7,186.9L329.7,186.5L332.1,186.5L332.1,185.9L334.5,185.9L334.5,186.8L336.9,186.8L336.9,185.7L339.3,185.7L339.3,185.9L341.7,185.9L341.7,186.2L344.0,186.2L344.0,185.0L346.4,185.0L346.4,184.8L348.8,184.8L348.8,186.2L351.2,186.2L351.2,186.1L353.6,186.1L353.6,185.0L356.0,185.0L356.0,185.8L358.4,185.8L358.4,184.7L360.8,184.7L360.8,187.0L363.2,187.0L363.2,184.5L365.6,184.5L365.6,185.5L368.0,185.5L368.0,184.3L370.3,184.3L370.3,184.8L372.7,184.8L372.7,185.4L375.1,185.4L375.1,184.5L377.5,184.5L377.5,185.5L379.9,185.5L379.9,184.6L382.3,184.6L382.3,185.1L384.7,185.1L384.7,184.5L387.1,184.5L387.1,184.1L389.5,184.1L389.5,185.1L391.9,185.1L391.9,184.2L394.2,184.2L394.2,185.5L396.6,185.5L396.6,184.0L399.0,184.0L399.0,183.9L401.4,183.9L401.4,185.8L403.8,185.8L403.8,183.7L406.2,183.7L406.2,183.8L408.6,183.8L408.6,184.9L411.0,184.9L411.0,184.5L413.4,184.5L413.4,184.5L415.8,184.5L415.8,185.1L418.1,185.1L418.1,184.3L420.5,184.3L420.5,184.8L422.9,184.8L422.9,183.6L425.3,183.6L425.3,184.4L427.7,184.4L427.7,184.3L430.1,184.3L430.1,184.8L432.5,184.8L432.5,183.2L434.9,183.2L434.9,183.9L437.3,183.9L437.3,185.2L439.7,185.2L439.7,183.1L442.1,183.1L442.1,184.4L444.4,184.4L444.4,184.3L446.8,184.3L446.8,184.6L449.2,184.6L449.2,183.4L451.6,183.4L451.6,184.5L454.0,184.5L454.0,183.6L456.4,183.6L456.4,183.3L458.8,183.3L458.8,183.0L461.2,183.0L461.2,183.8L463.6,183.8L463.6,183.1L466.0,183.1L466.0,183.4L468.3,183.4L468.3,183.2L470.7,183.2L470.7,182.9L473.1,182.9L473.1,183.6L475.5,183.6L475.5,182.6L477.9,182.6L477.9,181.6L480.3,181.6L480.3,183.2L482.7,183.2L482.7,182.5L485.1,182.5L485.1,182.3L487.5,182.3L487.5,182.6L489.9,182.6L489.9,183.5L492.2,183.5L492.2,182.3L494.6,182.3L494.6,182.5L497.0,182.5L497.0,182.5L499.4,182.5L499.4,183.8L501.8,183.8L501.8,181.4L504.2,181.4L504.2,183.5L506.6,183.5L506.6,183.7L509.0,183.7L509.0,183.8L511.4,183.8L511.4,184.0L513.8,184.0L513.8,184.7L516.2,184.7L516.2,183.1L518.5,183.1L518.5,183.2L520.9,183.2L520.9,183.4L523.3,183.4L523.3,184.5L525.7,184.5L525.7,183.7L528.1,183.7L528.1,183.6L530.5,183.6L530.5,183.8L532.9,183.8L532.9,183.7L535.3,183.7L535.3,183.9L537.7,183.9L537.7,183.1L540.1,183.1L540.1,184.2L542.4,184.2L542.4,184.5L544.8,184.5L544.8,183.1L547.2,183.1L547.2,184.3L549.6,184.3L549.6,183.8L552.0,183.8L552.0,184.5L554.4,184.5L554.4,184.2L556.8,184.2L556.8,184.3L559.2,184.3L559.2,184.6L561.6,184.6L561.6,183.3L564.0,183.3L564.0,183.8L566.3,183.8L566.3,184.4L568.7,184.4L568.7,184.0L571.1,184.0L571.1,183.7L573.5,183.7L573.5,184.2L575.9,184.2L575.9,184.4L578.3,184.4L578.3,184.1L580.7,184.1L580.7,230.8Z" fill="#279bc9"/>
<path d="M88.3,230.8L88.3,229.2L90.7,229.2L90.7,228.9L93.1,228.9L93.1,226.5L95.5,226.5L95.5,229.1L97.8,229.1L97.8,229.1L100.2,229.1L100.2,230.8ZM105.0,230.8L105.0,226.8L107.4,226.8L107.4,230.8ZM117.0,230.8L117.0,229.6L119.4,229.6L119.4,229.6L121.8,229.6L121.8,226.2L124.1,226.2L124.1,226.9L126.5,226.9L126.5,226.6L128.9,226.6L128.9,226.9L131.3,226.9L131.3,218.6L133.7,218.6L133.7,225.0L136.1,225.0L136.1,224.7L138.5,224.7L138.5,224.4L140.9,224.4L140.9,225.6L143.3,225.6L143.3,225.7L145.7,225.7L145.7,229.0L148.0,229.0L148.0,229.0L150.4,229.0L150.4,228.9L152.8,228.9L152.8,222.7L155.2,222.7L155.2,224.2L157.6,224.2L157.6,224.5L160.0,224.5L160.0,217.2L162.4,217.2L162.4,222.6L164.8,222.6L164.8,222.9L167.2,222.9L167.2,230.2L169.6,230.2L169.6,230.2L171.9,230.2L171.9,230.2L174.3,230.2L174.3,220.4L176.7,220.4L176.7,219.8L179.1,219.8L179.1,212.8L181.5,212.8L181.5,217.8L183.9,217.8L183.9,216.6L186.3,216.6L186.3,217.4L188.7,217.4L188.7,215.7L191.1,215.7L191.1,215.9L193.5,215.9L193.5,214.3L195.9,214.3L195.9,213.1L198.2,213.1L198.2,214.9L200.6,214.9L200.6,214.5L203.0,214.5L203.0,210.7L205.4,210.7L205.4,230.8ZM212.6,230.8L212.6,212.8L215.0,212.8L215.0,213.8L217.4,213.8L217.4,216.2L219.8,216.2L219.8,213.0L222.1,213.0L222.1,217.9L224.5,217.9L224.5,218.1L226.9,218.1L226.9,219.5L229.3,219.5L229.3,220.1L231.7,220.1L231.7,219.9L234.1,219.9L234.1,221.6L236.5,221.6L236.5,221.3L238.9,221.3L238.9,221.4L241.3,221.4L241.3,221.0L243.7,221.0L243.7,222.4L246.0,222.4L246.0,221.9L248.4,221.9L248.4,225.9L250.8,225.9L250.8,226.3L253.2,226.3L253.2,225.4L255.6,225.4L255.6,225.9L258.0,225.9L258.0,225.5L260.4,225.5L260.4,227.2L262.8,227.2L262.8,227.5L265.2,227.5L265.2,228.3L267.6,228.3L267.6,228.5L269.9,228.5L269.9,228.9L272.3,228.9L272.3,229.1L274.7,229.1L274.7,226.6L277.1,226.6L277.1,228.3L279.5,228.3L279.5,228.8L281.9,228.8L281.9,228.9L284.3,228.9L284.3,229.0L286.7,229.0L286.7,228.6L289.1,228.6L289.1,226.6L291.5,226.6L291.5,226.8L293.9,226.8L293.9,227.0L296.2,227.0L296.2,226.8L298.6,226.8L298.6,226.7L301.0,226.7L301.0,227.1L303.4,227.1L303.4,226.6L305.8,226.6L305.8,227.1L308.2,227.1L308.2,224.5L310.6,224.5L310.6,224.4L313.0,224.4L313.0,224.0L315.4,224.0L315.4,224.2L317.8,224.2L317.8,225.7L320.1,225.7L320.1,226.3L322.5,226.3L322.5,226.4L324.9,226.4L324.9,225.9L327.3,225.9L327.3,226.0L329.7,226.0L329.7,226.4L332.1,226.4L332.1,225.9L334.5,225.9L334.5,226.0L336.9,226.0L336.9,225.3L339.3,225.3L339.3,225.5L341.7,225.5L341.7,226.1L344.0,226.1L344.0,225.6L346.4,225.6L346.4,225.8L348.8,225.8L348.8,224.5L351.2,224.5L351.2,224.9L353.6,224.9L353.6,224.2L356.0,224.2L356.0,224.8L358.4,224.8L358.4,224.5L360.8,224.5L360.8,224.9L363.2,224.9L363.2,225.5L365.6,225.5L365.6,224.8L368.0,224.8L368.0,225.3L370.3,225.3L370.3,225.3L372.7,225.3L372.7,225.5L375.1,225.5L375.1,225.8L377.5,225.8L377.5,225.5L379.9,225.5L379.9,226.8L382.3,226.8L382.3,226.0L384.7,226.0L384.7,226.4L387.1,226.4L387.1,226.8L389.5,226.8L389.5,222.5L391.9,222.5L391.9,221.0L394.2,221.0L394.2,221.8L396.6,221.8L396.6,219.5L399.0,219.5L399.0,219.4L401.4,219.4L401.4,218.2L403.8,218.2L403.8,217.5L406.2,217.5L406.2,213.2L408.6,213.2L408.6,213.4L411.0,213.4L411.0,212.4L413.4,212.4L413.4,211.6L415.8,211.6L415.8,210.9L418.1,210.9L418.1,204.6L420.5,204.6L420.5,203.2L422.9,203.2L422.9,205.2L425.3,205.2L425.3,206.5L427.7,206.5L427.7,208.1L430.1,208.1L430.1,207.2L432.5,207.2L432.5,215.0L434.9,215.0L434.9,210.5L437.3,210.5L437.3,216.6L439.7,216.6L439.7,217.3L442.1,217.3L442.1,216.5L444.4,216.5L444.4,209.4L446.8,209.4L446.8,216.6L449.2,216.6L449.2,217.2L451.6,217.2L451.6,212.7L454.0,212.7L454.0,210.1L456.4,210.1L456.4,213.2L458.8,213.2L458.8,215.9L461.2,215.9L461.2,216.3L463.6,216.3L463.6,214.0L466.0,214.0L466.0,217.9L468.3,217.9L468.3,217.5L470.7,217.5L470.7,217.5L473.1,217.5L473.1,218.5L475.5,218.5L475.5,220.2L477.9,220.2L477.9,219.1L480.3,219.1L480.3,219.2L482.7,219.2L482.7,221.3L485.1,221.3L485.1,221.6L487.5,221.6L487.5,222.7L489.9,222.7L489.9,222.2L492.2,222.2L492.2,221.0L494.6,221.0L494.6,221.3L497.0,221.3L497.0,221.8L499.4,221.8L499.4,216.9L501.8,216.9L501.8,218.0L504.2,218.0L504.2,217.1L506.6,217.1L506.6,214.9L509.0,214.9L509.0,216.2L511.4,216.2L511.4,212.9L513.8,212.9L513.8,212.4L516.2,212.4L516.2,210.1L518.5,210.1L518.5,206.5L520.9,206.5L520.9,206.2L523.3,206.2L523.3,214.0L525.7,214.0L525.7,211.5L528.1,211.5L528.1,211.5L530.5,211.5L530.5,209.3L532.9,209.3L532.9,220.0L535.3,220.0L535.3,221.3L537.7,221.3L537.7,220.4L540.1,220.4L540.1,219.3L542.4,219.3L542.4,219.2L544.8,219.2L544.8,221.3L547.2,221.3L547.2,219.5L549.6,219.5L549.6,225.4L552.0,225.4L552.0,225.9L554.4,225.9L554.4,226.4L556.8,226.4L556.8,226.0L559.2,226.0L559.2,226.1L561.6,226.1L561.6,226.3L564.0,226.3L564.0,226.8L566.3,226.8L566.3,226.5L568.7,226.5L568.7,223.9L571.1,223.9L571.1,227.2L573.5,227.2L573.5,230.8Z" fill="#8dc63f"/>
<rect x="582.0" y="179.4" width="15.5" height="53.4" fill="#d9d9d9"/>
<text x="589.5" y="209.0" font-size="8.2" fill="#111" text-anchor="middle">3</text>
<rect x="34.4" y="237.9" width="547.6" height="53.4" fill="#f0f8ff"/>
<path d="M39.1,237.9V291.3M55.9,237.9V291.3M72.7,237.9V291.3M89.4,237.9V291.3M106.2,237.9V291.3M122.9,237.9V291.3M139.7,237.9V291.3M156.4,237.9V291.3M173.2,237.9V291.3M189.9,237.9V291.3M206.7,237.9V291.3M223.4,237.9V291.3M240.2,237.9V291.3M256.9,237.9V291.3M273.6,237.9V291.3M290.4,237.9V291.3M307.1,237.9V291.3M323.9,237.9V291.3M340.6,237.9V291.3M357.4,237.9V291.3M374.1,237.9V291.3M390.9,237.9V291.3M407.6,237.9V291.3M424.4,237.9V291.3M441.1,237.9V291.3M457.9,237.9V291.3M474.6,237.9V291.3M491.4,237.9V291.3M508.1,237.9V291.3M524.9,237.9V291.3M541.6,237.9V291.3M558.4,237.9V291.3M575.1,237.9V291.3M34.4,289.3H582.0M34.4,283.2H582.0M34.4,277.2H582.0M34.4,271.1H582.0M34.4,265.0H582.0M34.4,259.0H582.0M34.4,252.9H582.0M34.4,246.9H582.0M34.4,240.8H582.0" stroke="#fff" stroke-width="0.6" fill="none" opacity="0.6"/>
<path d="M76.3,289.3L76.3,283.5L78.7,283.5L78.7,283.4L81.1,283.4L81.1,283.2L83.5,283.2L83.5,283.3L85.9,283.3L85.9,283.1L88.3,283.1L88.3,283.0L90.7,283.0L90.7,283.2L93.1,283.2L93.1,283.0L95.5,283.0L95.5,283.1L97.8,283.1L97.8,283.0L100.2,283.0L100.2,282.8L102.6,282.8L102.6,282.8L105.0,282.8L105.0,282.8L107.4,282.8L107.4,283.2L109.8,283.2L109.8,282.4L112.2,282.4L112.2,282.7L114.6,282.7L114.6,282.3L117.0,282.3L117.0,282.6L119.4,282.6L119.4,282.4L121.8,282.4L121.8,282.7L124.1,282.7L124.1,268.7L126.5,268.7L126.5,268.4L128.9,268.4L128.9,269.1L131.3,269.1L131.3,269.7L133.7,269.7L133.7,270.0L136.1,270.0L136.1,256.5L138.5,256.5L138.5,257.4L140.9,257.4L140.9,256.1L143.3,256.1L143.3,257.1L145.7,257.1L145.7,255.7L148.0,255.7L148.0,256.4L150.4,256.4L150.4,255.4L152.8,255.4L152.8,256.0L155.2,256.0L155.2,255.8L157.6,255.8L157.6,249.8L160.0,249.8L160.0,247.8L162.4,247.8L162.4,247.2L164.8,247.2L164.8,246.0L167.2,246.0L167.2,247.4L169.6,247.4L169.6,247.9L171.9,247.9L171.9,247.0L174.3,247.0L174.3,246.7L176.7,246.7L176.7,243.9L179.1,243.9L179.1,246.7L181.5,246.7L181.5,244.8L183.9,244.8L183.9,245.6L186.3,245.6L186.3,244.1L188.7,244.1L188.7,244.2L191.1,244.2L191.1,245.1L193.5,245.1L193.5,244.7L195.9,244.7L195.9,241.9L198.2,241.9L198.2,241.3L200.6,241.3L200.6,240.9L203.0,240.9L203.0,241.9L205.4,241.9L205.4,241.5L207.8,241.5L207.8,242.1L210.2,242.1L210.2,241.9L212.6,241.9L212.6,240.8L215.0,240.8L215.0,240.1L217.4,240.1L217.4,240.8L219.8,240.8L219.8,241.0L222.1,241.0L222.1,241.3L224.5,241.3L224.5,241.9L226.9,241.9L226.9,240.8L229.3,240.8L229.3,241.3L231.7,241.3L231.7,241.8L234.1,241.8L234.1,242.4L236.5,242.4L236.5,241.3L238.9,241.3L238.9,242.3L241.3,242.3L241.3,241.8L243.7,241.8L243.7,241.7L246.0,241.7L246.0,241.5L248.4,241.5L248.4,242.2L250.8,242.2L250.8,240.9L253.2,240.9L253.2,242.2L255.6,242.2L255.6,242.0L258.0,242.0L258.0,241.5L260.4,241.5L260.4,241.6L262.8,241.6L262.8,242.0L265.2,242.0L265.2,242.2L267.6,242.2L267.6,241.4L269.9,241.4L269.9,241.7L272.3,241.7L272.3,241.7L274.7,241.7L274.7,241.5L277.1,241.5L277.1,241.1L279.5,241.1L279.5,240.7L281.9,240.7L281.9,242.3L284.3,242.3L284.3,241.8L286.7,241.8L286.7,240.8L289.1,240.8L289.1,241.1L291.5,241.1L291.5,242.4L293.9,242.4L293.9,242.0L296.2,242.0L296.2,242.4L298.6,242.4L298.6,242.1L301.0,242.1L301.0,241.2L303.4,241.2L303.4,240.9L305.8,240.9L305.8,240.9L308.2,240.9L308.2,241.7L310.6,241.7L310.6,243.0L313.0,243.0L313.0,242.7L315.4,242.7L315.4,242.1L317.8,242.1L317.8,243.1L320.1,243.1L320.1,241.1L322.5,241.1L322.5,243.4L324.9,243.4L324.9,242.3L327.3,242.3L327.3,242.3L329.7,242.3L329.7,243.1L332.1,243.1L332.1,242.1L334.5,242.1L334.5,243.0L336.9,243.0L336.9,241.9L339.3,241.9L339.3,244.4L341.7,244.4L341.7,243.1L344.0,243.1L344.0,243.0L346.4,243.0L346.4,242.8L348.8,242.8L348.8,242.6L351.2,242.6L351.2,241.8L353.6,241.8L353.6,242.1L356.0,242.1L356.0,243.0L358.4,243.0L358.4,242.7L360.8,242.7L360.8,242.4L363.2,242.4L363.2,242.1L365.6,242.1L365.6,241.8L368.0,241.8L368.0,241.0L370.3,241.0L370.3,241.3L372.7,241.3L372.7,240.7L375.1,240.7L375.1,240.7L377.5,240.7L377.5,242.0L379.9,242.0L379.9,241.8L382.3,241.8L382.3,242.4L384.7,242.4L384.7,241.9L387.1,241.9L387.1,241.3L389.5,241.3L389.5,241.5L391.9,241.5L391.9,242.1L394.2,242.1L394.2,242.9L396.6,242.9L396.6,240.5L399.0,240.5L399.0,242.1L401.4,242.1L401.4,241.0L403.8,241.0L403.8,241.7L406.2,241.7L406.2,241.7L408.6,241.7L408.6,240.3L411.0,240.3L411.0,241.8L413.4,241.8L413.4,241.2L415.8,241.2L415.8,240.7L418.1,240.7L418.1,241.1L420.5,241.1L420.5,241.5L422.9,241.5L422.9,240.8L425.3,240.8L425.3,240.5L427.7,240.5L427.7,241.6L430.1,241.6L430.1,240.9L432.5,240.9L432.5,241.1L434.9,241.1L434.9,241.2L437.3,241.2L437.3,242.0L439.7,242.0L439.7,240.7L442.1,240.7L442.1,241.3L444.4,241.3L444.4,241.7L446.8,241.7L446.8,241.6L449.2,241.6L449.2,242.1L451.6,242.1L451.6,241.4L454.0,241.4L454.0,241.2L456.4,241.2L456.4,241.9L458.8,241.9L458.8,241.6L461.2,241.6L461.2,240.9L463.6,240.9L463.6,240.6L466.0,240.6L466.0,240.6L468.3,240.6L468.3,242.0L470.7,242.0L470.7,240.3L473.1,240.3L473.1,241.5L475.5,241.5L475.5,241.4L477.9,241.4L477.9,242.0L480.3,242.0L480.3,240.6L482.7,240.6L482.7,243.0L485.1,243.0L485.1,241.9L487.5,241.9L487.5,240.9L489.9,240.9L489.9,241.5L492.2,241.5L492.2,241.1L494.6,241.1L494.6,241.0L497.0,241.0L497.0,240.0L499.4,240.0L499.4,242.3L501.8,242.3L501.8,241.9L504.2,241.9L504.2,242.7L506.6,242.7L506.6,243.0L509.0,243.0L509.0,241.8L511.4,241.8L511.4,241.7L513.8,241.7L513.8,242.7L516.2,242.7L516.2,242.2L518.5,242.2L518.5,242.1L520.9,242.1L520.9,243.2L523.3,243.2L523.3,243.2L525.7,243.2L525.7,242.7L528.1,242.7L528.1,242.3L530.5,242.3L530.5,243.8L532.9,243.8L532.9,241.7L535.3,241.7L535.3,242.9L537.7,242.9L537.7,242.2L540.1,242.2L540.1,242.7L542.4,242.7L542.4,243.0L544.8,243.0L544.8,242.0L547.2,242.0L547.2,241.9L549.6,241.9L549.6,242.4L552.0,242.4L552.0,242.3L554.4,242.3L554.4,242.3L556.8,242.3L556.8,242.0L559.2,242.0L559.2,242.1L561.6,242.1L561.6,242.0L564.0,242.0L564.0,241.1L566.3,241.1L566.3,242.5L568.7,242.5L568.7,241.5L571.1,241.5L571.1,244.4L573.5,244.4L573.5,242.5L575.9,242.5L575.9,242.0L578.3,242.0L578.3,241.6L580.7,241.6L580.7,289.3Z" fill="#279bc9"/>
<path d="M88.3,289.3L88.3,287.5L90.7,287.5L90.7,287.8L93.1,287.8L93.1,287.8L95.5,287.8L95.5,289.3ZM105.0,289.3L105.0,285.6L107.4,285.6L107.4,289.3ZM121.8,289.3L121.8,285.2L124.1,285.2L124.1,285.9L126.5,285.9L126.5,282.4L128.9,282.4L128.9,281.4L131.3,281.4L131.3,281.2L133.7,281.2L133.7,280.3L136.1,280.3L136.1,275.3L138.5,275.3L138.5,274.8L140.9,274.8L140.9,272.9L143.3,272.9L143.3,278.2L145.7,278.2L145.7,278.3L148.0,278.3L148.0,280.1L150.4,280.1L150.4,287.5L152.8,287.5L152.8,280.1L155.2,280.1L155.2,279.0L157.6,279.0L157.6,280.5L160.0,280.5L160.0,273.2L162.4,273.2L162.4,280.5L164.8,280.5L164.8,282.4L167.2,282.4L167.2,283.1L169.6,283.1L169.6,289.0L171.9,289.0L171.9,289.0L174.3,289.0L174.3,279.2L176.7,279.2L176.7,279.3L179.1,279.3L179.1,271.5L181.5,271.5L181.5,271.9L183.9,271.9L183.9,273.6L186.3,273.6L186.3,288.7L188.7,288.7L188.7,277.1L191.1,277.1L191.1,278.0L193.5,278.0L193.5,276.8L195.9,276.8L195.9,276.9L198.2,276.9L198.2,280.5L200.6,280.5L200.6,280.2L203.0,280.2L203.0,276.1L205.4,276.1L205.4,289.0L207.8,289.0L207.8,289.0L210.2,289.0L210.2,289.0L212.6,289.0L212.6,280.7L215.0,280.7L215.0,280.2L217.4,280.2L217.4,282.8L219.8,282.8L219.8,283.0L222.1,283.0L222.1,282.7L224.5,282.7L224.5,284.6L226.9,284.6L226.9,284.0L229.3,284.0L229.3,284.4L231.7,284.4L231.7,285.4L234.1,285.4L234.1,284.4L236.5,284.4L236.5,285.8L238.9,285.8L238.9,284.7L241.3,284.7L241.3,285.6L243.7,285.6L243.7,285.7L246.0,285.7L246.0,284.2L248.4,284.2L248.4,287.7L250.8,287.7L250.8,287.7L253.2,287.7L253.2,287.7L255.6,287.7L255.6,287.7L258.0,287.7L258.0,287.7L260.4,287.7L260.4,287.6L262.8,287.6L262.8,287.6L265.2,287.6L265.2,287.4L267.6,287.4L267.6,287.7L269.9,287.7L269.9,287.4L272.3,287.4L272.3,287.7L274.7,287.7L274.7,286.3L277.1,286.3L277.1,286.5L279.5,286.5L279.5,286.2L281.9,286.2L281.9,285.7L284.3,285.7L284.3,286.0L286.7,286.0L286.7,286.1L289.1,286.1L289.1,286.9L291.5,286.9L291.5,286.8L293.9,286.8L293.9,287.1L296.2,287.1L296.2,287.1L298.6,287.1L298.6,287.1L301.0,287.1L301.0,287.1L303.4,287.1L303.4,286.3L305.8,286.3L305.8,287.0L308.2,287.0L308.2,284.5L310.6,284.5L310.6,284.3L313.0,284.3L313.0,284.5L315.4,284.5L315.4,283.8L317.8,283.8L317.8,282.6L320.1,282.6L320.1,284.0L322.5,284.0L322.5,284.0L324.9,284.0L324.9,281.7L327.3,281.7L327.3,282.2L329.7,282.2L329.7,285.3L332.1,285.3L332.1,285.5L334.5,285.5L334.5,285.8L336.9,285.8L336.9,285.4L339.3,285.4L339.3,285.4L341.7,285.4L341.7,285.6L344.0,285.6L344.0,287.5L346.4,287.5L346.4,287.5L348.8,287.5L348.8,287.7L351.2,287.7L351.2,287.7L353.6,287.7L353.6,287.6L356.0,287.6L356.0,284.7L358.4,284.7L358.4,288.0L360.8,288.0L360.8,287.7L363.2,287.7L363.2,287.9L365.6,287.9L365.6,287.8L368.0,287.8L368.0,288.0L370.3,288.0L370.3,287.9L372.7,287.9L372.7,287.8L375.1,287.8L375.1,287.5L377.5,287.5L377.5,287.1L379.9,287.1L379.9,286.9L382.3,286.9L382.3,287.2L384.7,287.2L384.7,287.2L387.1,287.2L387.1,286.9L389.5,286.9L389.5,287.0L391.9,287.0L391.9,287.1L394.2,287.1L394.2,286.9L396.6,286.9L396.6,287.0L399.0,287.0L399.0,286.9L401.4,286.9L401.4,285.5L403.8,285.5L403.8,285.6L406.2,285.6L406.2,285.7L408.6,285.7L408.6,280.0L411.0,280.0L411.0,281.9L413.4,281.9L413.4,282.1L415.8,282.1L415.8,282.5L418.1,282.5L418.1,283.0L420.5,283.0L420.5,282.3L422.9,282.3L422.9,282.6L425.3,282.6L425.3,283.2L427.7,283.2L427.7,282.3L430.1,282.3L430.1,281.7L432.5,281.7L432.5,284.8L434.9,284.8L434.9,284.5L437.3,284.5L437.3,284.8L439.7,284.8L439.7,284.4L442.1,284.4L442.1,284.9L444.4,284.9L444.4,284.3L446.8,284.3L446.8,284.3L449.2,284.3L449.2,287.1L451.6,287.1L451.6,287.1L454.0,287.1L454.0,286.9L456.4,286.9L456.4,287.0L458.8,287.0L458.8,286.8L461.2,286.8L461.2,287.3L463.6,287.3L463.6,287.0L466.0,287.0L466.0,286.9L468.3,286.9L468.3,287.0L470.7,287.0L470.7,287.1L473.1,287.1L473.1,288.4L475.5,288.4L475.5,288.4L477.9,288.4L477.9,288.4L480.3,288.4L480.3,288.4L482.7,288.4L482.7,287.0L485.1,287.0L485.1,286.9L487.5,286.9L487.5,286.6L489.9,286.6L489.9,286.9L492.2,286.9L492.2,286.9L494.6,286.9L494.6,287.2L497.0,287.2L497.0,287.2L499.4,287.2L499.4,285.2L501.8,285.2L501.8,284.5L504.2,284.5L504.2,285.2L506.6,285.2L506.6,284.5L509.0,284.5L509.0,285.2L511.4,285.2L511.4,284.8L513.8,284.8L513.8,284.3L516.2,284.3L516.2,284.4L518.5,284.4L518.5,284.9L520.9,284.9L520.9,285.2L523.3,285.2L523.3,280.4L525.7,280.4L525.7,280.3L528.1,280.3L528.1,279.2L530.5,279.2L530.5,279.9L532.9,279.9L532.9,280.9L535.3,280.9L535.3,275.2L537.7,275.2L537.7,275.2L540.1,275.2L540.1,278.8L542.4,278.8L542.4,279.9L544.8,279.9L544.8,280.0L547.2,280.0L547.2,282.6L549.6,282.6L549.6,282.3L552.0,282.3L552.0,282.2L554.4,282.2L554.4,286.0L556.8,286.0L556.8,285.6L559.2,285.6L559.2,285.6L561.6,285.6L561.6,285.8L564.0,285.8L564.0,285.8L566.3,285.8L566.3,285.4L568.7,285.4L568.7,285.6L571.1,285.6L571.1,285.6L573.5,285.6L573.5,289.3Z" fill="#8dc63f"/>
<rect x="582.0" y="237.9" width="15.5" height="53.4" fill="#d9d9d9"/>
<text x="589.5" y="267.5" font-size="8.2" fill="#111" text-anchor="middle">4</text>
<rect x="34.4" y="296.4" width="547.6" height="53.4" fill="#f0f8ff"/>
<path d="M39.1,296.4V349.8M55.9,296.4V349.8M72.7,296.4V349.8M89.4,296.4V349.8M106.2,296.4V349.8M122.9,296.4V349.8M139.7,296.4V349.8M156.4,296.4V349.8M173.2,296.4V349.8M189.9,296.4V349.8M206.7,296.4V349.8M223.4,296.4V349.8M240.2,296.4V349.8M256.9,296.4V349.8M273.6,296.4V349.8M290.4,296.4V349.8M307.1,296.4V349.8M323.9,296.4V349.8M340.6,296.4V349.8M357.4,296.4V349.8M374.1,296.4V349.8M390.9,296.4V349.8M407.6,296.4V349.8M424.4,296.4V349.8M441.1,296.4V349.8M457.9,296.4V349.8M474.6,296.4V349.8M491.4,296.4V349.8M508.1,296.4V349.8M524.9,296.4V349.8M541.6,296.4V349.8M558.4,296.4V349.8M575.1,296.4V349.8M34.4,347.8H582.0M34.4,341.8H582.0M34.4,335.7H582.0M34.4,329.6H582.0M34.4,323.6H582.0M34.4,317.5H582.0M34.4,311.4H582.0M34.4,305.4H582.0M34.4,299.3H582.0" stroke="#fff" stroke-width="0.6" fill="none" opacity="0.6"/>
<path d="M76.3,347.8L76.3,341.3L78.7,341.3L78.7,341.4L81.1,341.4L81.1,329.8L83.5,329.8L83.5,329.7L85.9,329.7L85.9,328.9L88.3,328.9L88.3,328.7L90.7,328.7L90.7,328.5L93.1,328.5L93.1,327.7L95.5,327.7L95.5,326.4L97.8,326.4L97.8,325.7L100.2,325.7L100.2,326.4L102.6,326.4L102.6,324.1L105.0,324.1L105.0,324.9L107.4,324.9L107.4,324.6L109.8,324.6L109.8,323.4L112.2,323.4L112.2,323.9L114.6,323.9L114.6,323.4L117.0,323.4L117.0,322.5L119.4,322.5L119.4,320.0L121.8,320.0L121.8,319.4L124.1,319.4L124.1,318.2L126.5,318.2L126.5,317.7L128.9,317.7L128.9,316.3L131.3,316.3L131.3,318.5L133.7,318.5L133.7,316.6L136.1,316.6L136.1,307.4L138.5,307.4L138.5,307.6L140.9,307.6L140.9,306.5L143.3,306.5L143.3,306.6L145.7,306.6L145.7,306.4L148.0,306.4L148.0,303.3L150.4,303.3L150.4,304.2L152.8,304.2L152.8,305.3L155.2,305.3L155.2,304.5L157.6,304.5L157.6,302.8L160.0,302.8L160.0,303.4L162.4,303.4L162.4,303.1L164.8,303.1L164.8,303.9L167.2,303.9L167.2,303.5L169.6,303.5L169.6,302.4L171.9,302.4L171.9,303.5L174.3,303.5L174.3,301.7L176.7,301.7L176.7,302.1L179.1,302.1L179.1,303.6L181.5,303.6L181.5,302.8L183.9,302.8L183.9,302.8L186.3,302.8L186.3,302.9L188.7,302.9L188.7,302.6L191.1,302.6L191.1,302.0L193.5,302.0L193.5,300.3L195.9,300.3L195.9,300.2L198.2,300.2L198.2,301.2L200.6,301.2L200.6,301.1L203.0,301.1L203.0,301.0L205.4,301.0L205.4,300.6L207.8,300.6L207.8,300.1L210.2,300.1L210.2,300.1L212.6,300.1L212.6,300.7L215.0,300.7L215.0,299.8L217.4,299.8L217.4,301.0L219.8,301.0L219.8,299.7L222.1,299.7L222.1,300.4L224.5,300.4L224.5,301.0L226.9,301.0L226.9,301.0L229.3,301.0L229.3,300.4L231.7,300.4L231.7,300.9L234.1,300.9L234.1,300.9L236.5,300.9L236.5,300.8L238.9,300.8L238.9,300.4L241.3,300.4L241.3,300.3L243.7,300.3L243.7,300.4L246.0,300.4L246.0,300.3L248.4,300.3L248.4,300.9L250.8,300.9L250.8,301.0L253.2,301.0L253.2,301.2L255.6,301.2L255.6,300.4L258.0,300.4L258.0,299.7L260.4,299.7L260.4,300.3L262.8,300.3L262.8,300.2L265.2,300.2L265.2,300.0L267.6,300.0L267.6,300.8L269.9,300.8L269.9,300.9L272.3,300.9L272.3,300.2L274.7,300.2L274.7,299.9L277.1,299.9L277.1,299.9L279.5,299.9L279.5,301.0L281.9,301.0L281.9,299.6L284.3,299.6L284.3,300.5L286.7,300.5L286.7,300.8L289.1,300.8L289.1,300.1L291.5,300.1L291.5,300.7L293.9,300.7L293.9,300.9L296.2,300.9L296.2,299.8L298.6,299.8L298.6,299.5L301.0,299.5L301.0,300.4L303.4,300.4L303.4,299.9L305.8,299.9L305.8,300.0L308.2,300.0L308.2,301.2L310.6,301.2L310.6,300.1L313.0,300.1L313.0,301.4L315.4,301.4L315.4,300.9L317.8,300.9L317.8,299.9L320.1,299.9L320.1,300.3L322.5,300.3L322.5,299.2L324.9,299.2L324.9,300.0L327.3,300.0L327.3,300.1L329.7,300.1L329.7,300.5L332.1,300.5L332.1,300.1L334.5,300.1L334.5,299.5L336.9,299.5L336.9,299.3L339.3,299.3L339.3,299.3L341.7,299.3L341.7,299.3L344.0,299.3L344.0,300.5L346.4,300.5L346.4,300.6L348.8,300.6L348.8,300.2L351.2,300.2L351.2,300.1L353.6,300.1L353.6,299.8L356.0,299.8L356.0,300.3L358.4,300.3L358.4,299.6L360.8,299.6L360.8,299.4L363.2,299.4L363.2,300.3L365.6,300.3L365.6,299.8L368.0,299.8L368.0,300.4L370.3,300.4L370.3,299.5L372.7,299.5L372.7,301.0L375.1,301.0L375.1,300.9L377.5,300.9L377.5,299.6L379.9,299.6L379.9,299.9L382.3,299.9L382.3,300.4L384.7,300.4L384.7,300.4L387.1,300.4L387.1,299.9L389.5,299.9L389.5,300.8L391.9,300.8L391.9,299.8L394.2,299.8L394.2,299.8L396.6,299.8L396.6,300.8L399.0,300.8L399.0,300.9L401.4,300.9L401.4,300.6L403.8,300.6L403.8,299.3L406.2,299.3L406.2,300.6L408.6,300.6L408.6,299.9L411.0,299.9L411.0,300.3L413.4,300.3L413.4,299.3L415.8,299.3L415.8,299.3L418.1,299.3L418.1,299.5L420.5,299.5L420.5,301.4L422.9,301.4L422.9,299.8L425.3,299.8L425.3,300.2L427.7,300.2L427.7,300.5L430.1,300.5L430.1,300.8L432.5,300.8L432.5,299.5L434.9,299.5L434.9,300.3L437.3,300.3L437.3,299.4L439.7,299.4L439.7,300.8L442.1,300.8L442.1,299.3L444.4,299.3L444.4,300.3L446.8,300.3L446.8,299.9L449.2,299.9L449.2,300.1L451.6,300.1L451.6,299.4L454.0,299.4L454.0,299.4L456.4,299.4L456.4,300.9L458.8,300.9L458.8,299.8L461.2,299.8L461.2,300.2L463.6,300.2L463.6,299.4L466.0,299.4L466.0,302.1L468.3,302.1L468.3,301.5L470.7,301.5L470.7,300.5L473.1,300.5L473.1,301.8L475.5,301.8L475.5,302.4L477.9,302.4L477.9,301.4L480.3,301.4L480.3,301.0L482.7,301.0L482.7,300.8L485.1,300.8L485.1,301.2L487.5,301.2L487.5,300.4L489.9,300.4L489.9,300.7L492.2,300.7L492.2,302.0L494.6,302.0L494.6,302.3L497.0,302.3L497.0,301.1L499.4,301.1L499.4,300.5L501.8,300.5L501.8,300.2L504.2,300.2L504.2,301.3L506.6,301.3L506.6,300.0L509.0,300.0L509.0,300.3L511.4,300.3L511.4,302.3L513.8,302.3L513.8,301.0L516.2,301.0L516.2,299.0L518.5,299.0L518.5,301.2L520.9,301.2L520.9,299.9L523.3,299.9L523.3,301.0L525.7,301.0L525.7,301.3L528.1,301.3L528.1,300.9L530.5,300.9L530.5,299.9L532.9,299.9L532.9,301.2L535.3,301.2L535.3,300.8L537.7,300.8L537.7,300.4L540.1,300.4L540.1,301.0L542.4,301.0L542.4,300.2L544.8,300.2L544.8,300.6L547.2,300.6L547.2,300.2L549.6,300.2L549.6,300.9L552.0,300.9L552.0,300.6L554.4,300.6L554.4,300.5L556.8,300.5L556.8,301.5L559.2,301.5L559.2,300.1L561.6,300.1L561.6,300.0L564.0,300.0L564.0,301.1L566.3,301.1L566.3,301.4L568.7,301.4L568.7,300.2L571.1,300.2L571.1,300.8L573.5,300.8L573.5,301.3L575.9,301.3L575.9,299.5L578.3,299.5L578.3,300.4L580.7,300.4L580.7,347.8Z" fill="#279bc9"/>
<path d="M81.1,347.8L81.1,343.6L83.5,343.6L83.5,342.5L85.9,342.5L85.9,342.3L88.3,342.3L88.3,336.6L90.7,336.6L90.7,338.1L93.1,338.1L93.1,337.3L95.5,337.3L95.5,341.3L97.8,341.3L97.8,342.1L100.2,342.1L100.2,340.4L102.6,340.4L102.6,339.6L105.0,339.6L105.0,339.3L107.4,339.3L107.4,347.0L109.8,347.0L109.8,347.0L112.2,347.0L112.2,347.0L114.6,347.0L114.6,341.7L117.0,341.7L117.0,341.9L119.4,341.9L119.4,341.2L121.8,341.2L121.8,338.1L124.1,338.1L124.1,336.7L126.5,336.7L126.5,333.3L128.9,333.3L128.9,333.8L131.3,333.8L131.3,334.1L133.7,334.1L133.7,335.6L136.1,335.6L136.1,333.9L138.5,333.9L138.5,330.3L140.9,330.3L140.9,329.0L143.3,329.0L143.3,337.9L145.7,337.9L145.7,338.0L148.0,338.0L148.0,339.9L150.4,339.9L150.4,339.7L152.8,339.7L152.8,330.9L155.2,330.9L155.2,330.5L157.6,330.5L157.6,333.4L160.0,333.4L160.0,338.2L162.4,338.2L162.4,338.3L164.8,338.3L164.8,341.5L167.2,341.5L167.2,342.2L169.6,342.2L169.6,347.5L171.9,347.5L171.9,347.5L174.3,347.5L174.3,338.2L176.7,338.2L176.7,337.0L179.1,337.0L179.1,337.7L181.5,337.7L181.5,340.6L183.9,340.6L183.9,340.7L186.3,340.7L186.3,339.6L188.7,339.6L188.7,339.7L191.1,339.7L191.1,339.7L193.5,339.7L193.5,338.9L195.9,338.9L195.9,338.5L198.2,338.5L198.2,338.6L200.6,338.6L200.6,338.7L203.0,338.7L203.0,338.0L205.4,338.0L205.4,336.2L207.8,336.2L207.8,347.5L210.2,347.5L210.2,347.5L212.6,347.5L212.6,337.8L215.0,337.8L215.0,337.8L217.4,337.8L217.4,340.8L219.8,340.8L219.8,340.8L222.1,340.8L222.1,340.4L224.5,340.4L224.5,341.0L226.9,341.0L226.9,340.9L229.3,340.9L229.3,341.2L231.7,341.2L231.7,343.0L234.1,343.0L234.1,343.3L236.5,343.3L236.5,343.3L238.9,343.3L238.9,342.9L241.3,342.9L241.3,342.5L243.7,342.5L243.7,342.5L246.0,342.5L246.0,342.8L248.4,342.8L248.4,345.5L250.8,345.5L250.8,345.5L253.2,345.5L253.2,345.1L255.6,345.1L255.6,345.4L258.0,345.4L258.0,345.5L260.4,345.5L260.4,345.0L262.8,345.0L262.8,345.5L265.2,345.5L265.2,345.3L267.6,345.3L267.6,345.1L269.9,345.1L269.9,343.9L272.3,343.9L272.3,343.9L274.7,343.9L274.7,343.6L277.1,343.6L277.1,343.2L279.5,343.2L279.5,343.6L281.9,343.6L281.9,343.9L284.3,343.9L284.3,343.5L286.7,343.5L286.7,343.8L289.1,343.8L289.1,342.5L291.5,342.5L291.5,341.6L293.9,341.6L293.9,341.2L296.2,341.2L296.2,341.6L298.6,341.6L298.6,341.5L301.0,341.5L301.0,341.3L303.4,341.3L303.4,342.2L305.8,342.2L305.8,340.9L308.2,340.9L308.2,343.3L310.6,343.3L310.6,342.8L313.0,342.8L313.0,343.2L315.4,343.2L315.4,344.0L317.8,344.0L317.8,343.5L320.1,343.5L320.1,343.6L322.5,343.6L322.5,343.8L324.9,343.8L324.9,343.2L327.3,343.2L327.3,341.3L329.7,341.3L329.7,343.9L332.1,343.9L332.1,343.6L334.5,343.6L334.5,343.4L336.9,343.4L336.9,343.6L339.3,343.6L339.3,342.5L341.7,342.5L341.7,343.6L344.0,343.6L344.0,345.8L346.4,345.8L346.4,345.9L348.8,345.9L348.8,345.8L351.2,345.8L351.2,345.5L353.6,345.5L353.6,345.2L356.0,345.2L356.0,345.4L358.4,345.4L358.4,345.4L360.8,345.4L360.8,345.1L363.2,345.1L363.2,345.2L365.6,345.2L365.6,345.5L368.0,345.5L368.0,345.0L370.3,345.0L370.3,346.7L372.7,346.7L372.7,346.7L375.1,346.7L375.1,346.7L377.5,346.7L377.5,346.7L379.9,346.7L379.9,346.7L382.3,346.7L382.3,346.7L384.7,346.7L384.7,346.7L387.1,346.7L387.1,346.7L389.5,346.7L389.5,343.9L391.9,343.9L391.9,344.0L394.2,344.0L394.2,343.6L396.6,343.6L396.6,342.4L399.0,342.4L399.0,342.0L401.4,342.0L401.4,338.7L403.8,338.7L403.8,339.1L406.2,339.1L406.2,338.7L408.6,338.7L408.6,338.1L411.0,338.1L411.0,338.1L413.4,338.1L413.4,338.2L415.8,338.2L415.8,336.4L418.1,336.4L418.1,338.5L420.5,338.5L420.5,337.2L422.9,337.2L422.9,340.2L425.3,340.2L425.3,340.0L427.7,340.0L427.7,339.5L430.1,339.5L430.1,340.1L432.5,340.1L432.5,341.5L434.9,341.5L434.9,341.0L437.3,341.0L437.3,342.0L439.7,342.0L439.7,342.5L442.1,342.5L442.1,344.3L444.4,344.3L444.4,344.5L446.8,344.5L446.8,344.1L449.2,344.1L449.2,344.5L451.6,344.5L451.6,344.2L454.0,344.2L454.0,344.2L456.4,344.2L456.4,344.5L458.8,344.5L458.8,344.2L461.2,344.2L461.2,344.3L463.6,344.3L463.6,345.3L466.0,345.3L466.0,346.0L468.3,346.0L468.3,345.8L470.7,345.8L470.7,345.8L473.1,345.8L473.1,345.9L475.5,345.9L475.5,345.8L477.9,345.8L477.9,344.8L480.3,344.8L480.3,344.7L482.7,344.7L482.7,344.3L485.1,344.3L485.1,344.9L487.5,344.9L487.5,345.0L489.9,345.0L489.9,345.2L492.2,345.2L492.2,345.0L494.6,345.0L494.6,345.1L497.0,345.1L497.0,345.1L499.4,345.1L499.4,342.1L501.8,342.1L501.8,340.9L504.2,340.9L504.2,341.0L506.6,341.0L506.6,338.7L509.0,338.7L509.0,338.8L511.4,338.8L511.4,339.8L513.8,339.8L513.8,340.2L516.2,340.2L516.2,338.6L518.5,338.6L518.5,337.7L520.9,337.7L520.9,336.7L523.3,336.7L523.3,336.6L525.7,336.6L525.7,338.2L528.1,338.2L528.1,339.7L530.5,339.7L530.5,339.6L532.9,339.6L532.9,338.4L535.3,338.4L535.3,339.3L537.7,339.3L537.7,339.2L540.1,339.2L540.1,339.5L542.4,339.5L542.4,339.0L544.8,339.0L544.8,340.1L547.2,340.1L547.2,339.7L549.6,339.7L549.6,340.2L552.0,340.2L552.0,342.2L554.4,342.2L554.4,342.8L556.8,342.8L556.8,342.2L559.2,342.2L559.2,342.1L561.6,342.1L561.6,344.6L564.0,344.6L564.0,344.8L566.3,344.8L566.3,344.6L568.7,344.6L568.7,344.1L571.1,344.1L571.1,344.3L573.5,344.3L573.5,344.3L575.9,344.3L575.9,347.8Z" fill="#8dc63f"/>
<rect x="582.0" y="296.4" width="15.5" height="53.4" fill="#d9d9d9"/>
<text x="589.5" y="326.0" font-size="8.2" fill="#111" text-anchor="middle">5</text>
<rect x="34.4" y="354.9" width="547.6" height="53.4" fill="#f0f8ff"/>
<path d="M39.1,354.9V408.3M55.9,354.9V408.3M72.7,354.9V408.3M89.4,354.9V408.3M106.2,354.9V408.3M122.9,354.9V408.3M139.7,354.9V408.3M156.4,354.9V408.3M173.2,354.9V408.3M189.9,354.9V408.3M206.7,354.9V408.3M223.4,354.9V408.3M240.2,354.9V408.3M256.9,354.9V408.3M273.6,354.9V408.3M290.4,354.9V408.3M307.1,354.9V408.3M323.9,354.9V408.3M340.6,354.9V408.3M357.4,354.9V408.3M374.1,354.9V408.3M390.9,354.9V408.3M407.6,354.9V408.3M424.4,354.9V408.3M441.1,354.9V408.3M457.9,354.9V408.3M474.6,354.9V408.3M491.4,354.9V408.3M508.1,354.9V408.3M524.9,354.9V408.3M541.6,354.9V408.3M558.4,354.9V408.3M575.1,354.9V408.3M34.4,406.3H582.0M34.4,400.3H582.0M34.4,394.2H582.0M34.4,388.2H582.0M34.4,382.1H582.0M34.4,376.0H582.0M34.4,370.0H582.0M34.4,363.9H582.0M34.4,357.8H582.0" stroke="#fff" stroke-width="0.6" fill="none" opacity="0.6"/>
<path d="M78.7,406.3L78.7,404.6L81.1,404.6L81.1,404.6L83.5,404.6L83.5,404.6L85.9,404.6L85.9,401.4L88.3,401.4L88.3,401.7L90.7,401.7L90.7,398.6L93.1,398.6L93.1,398.7L95.5,398.7L95.5,398.2L97.8,398.2L97.8,398.6L100.2,398.6L100.2,398.6L102.6,398.6L102.6,398.6L105.0,398.6L105.0,398.4L107.4,398.4L107.4,398.4L109.8,398.4L109.8,398.2L112.2,398.2L112.2,393.3L114.6,393.3L114.6,392.5L117.0,392.5L117.0,392.5L119.4,392.5L119.4,392.7L121.8,392.7L121.8,393.3L124.1,393.3L124.1,372.4L126.5,372.4L126.5,364.3L128.9,364.3L128.9,364.3L131.3,364.3L131.3,359.0L133.7,359.0L133.7,357.5L136.1,357.5L136.1,358.1L138.5,358.1L138.5,358.8L140.9,358.8L140.9,359.2L143.3,359.2L143.3,358.1L145.7,358.1L145.7,358.6L148.0,358.6L148.0,359.0L150.4,359.0L150.4,358.8L152.8,358.8L152.8,358.3L155.2,358.3L155.2,358.8L157.6,358.8L157.6,358.7L160.0,358.7L160.0,357.9L162.4,357.9L162.4,358.9L164.8,358.9L164.8,358.6L167.2,358.6L167.2,358.1L169.6,358.1L169.6,359.0L171.9,359.0L171.9,358.1L174.3,358.1L174.3,360.1L176.7,360.1L176.7,358.5L179.1,358.5L179.1,358.4L181.5,358.4L181.5,359.0L183.9,359.0L183.9,358.4L186.3,358.4L186.3,358.8L188.7,358.8L188.7,359.0L191.1,359.0L191.1,358.6L193.5,358.6L193.5,357.6L195.9,357.6L195.9,359.1L198.2,359.1L198.2,357.9L200.6,357.9L200.6,356.8L203.0,356.8L203.0,358.9L205.4,358.9L205.4,358.8L207.8,358.8L207.8,360.0L210.2,360.0L210.2,359.0L212.6,359.0L212.6,360.4L215.0,360.4L215.0,359.0L217.4,359.0L217.4,359.3L219.8,359.3L219.8,359.8L222.1,359.8L222.1,360.3L224.5,360.3L224.5,360.1L226.9,360.1L226.9,359.0L229.3,359.0L229.3,361.8L231.7,361.8L231.7,359.7L234.1,359.7L234.1,360.8L236.5,360.8L236.5,359.6L238.9,359.6L238.9,360.5L241.3,360.5L241.3,359.9L243.7,359.9L243.7,360.7L246.0,360.7L246.0,359.4L248.4,359.4L248.4,359.6L250.8,359.6L250.8,359.6L253.2,359.6L253.2,360.8L255.6,360.8L255.6,359.6L258.0,359.6L258.0,362.2L260.4,362.2L260.4,360.5L262.8,360.5L262.8,361.0L265.2,361.0L265.2,359.4L267.6,359.4L267.6,360.7L269.9,360.7L269.9,360.5L272.3,360.5L272.3,361.1L274.7,361.1L274.7,359.7L277.1,359.7L277.1,359.8L279.5,359.8L279.5,360.5L281.9,360.5L281.9,360.2L284.3,360.2L284.3,359.9L286.7,359.9L286.7,360.4L289.1,360.4L289.1,361.2L291.5,361.2L291.5,361.2L293.9,361.2L293.9,361.8L296.2,361.8L296.2,361.6L298.6,361.6L298.6,361.9L301.0,361.9L301.0,361.5L303.4,361.5L303.4,361.0L305.8,361.0L305.8,361.8L308.2,361.8L308.2,359.8L310.6,359.8L310.6,360.7L313.0,360.7L313.0,360.0L315.4,360.0L315.4,360.7L317.8,360.7L317.8,360.5L320.1,360.5L320.1,359.9L322.5,359.9L322.5,360.2L324.9,360.2L324.9,359.8L327.3,359.8L327.3,359.3L329.7,359.3L329.7,359.3L332.1,359.3L332.1,360.8L334.5,360.8L334.5,362.0L336.9,362.0L336.9,360.4L339.3,360.4L339.3,359.3L341.7,359.3L341.7,360.2L344.0,360.2L344.0,359.5L346.4,359.5L346.4,359.8L348.8,359.8L348.8,360.7L351.2,360.7L351.2,359.8L353.6,359.8L353.6,359.5L356.0,359.5L356.0,359.3L358.4,359.3L358.4,360.8L360.8,360.8L360.8,359.9L363.2,359.9L363.2,359.7L365.6,359.7L365.6,360.5L368.0,360.5L368.0,360.0L370.3,360.0L370.3,360.8L372.7,360.8L372.7,359.8L375.1,359.8L375.1,359.8L377.5,359.8L377.5,360.9L379.9,360.9L379.9,359.8L382.3,359.8L382.3,359.8L384.7,359.8L384.7,359.3L387.1,359.3L387.1,360.5L389.5,360.5L389.5,359.3L391.9,359.3L391.9,359.3L394.2,359.3L394.2,359.4L396.6,359.4L396.6,359.7L399.0,359.7L399.0,359.8L401.4,359.8L401.4,360.7L403.8,360.7L403.8,359.4L406.2,359.4L406.2,359.7L408.6,359.7L408.6,359.1L411.0,359.1L411.0,359.6L413.4,359.6L413.4,358.2L415.8,358.2L415.8,359.2L418.1,359.2L418.1,359.0L420.5,359.0L420.5,360.3L422.9,360.3L422.9,358.6L425.3,358.6L425.3,358.2L427.7,358.2L427.7,358.5L430.1,358.5L430.1,358.7L432.5,358.7L432.5,357.7L434.9,357.7L434.9,359.4L437.3,359.4L437.3,359.3L439.7,359.3L439.7,358.4L442.1,358.4L442.1,358.3L444.4,358.3L444.4,358.8L446.8,358.8L446.8,359.7L449.2,359.7L449.2,358.5L451.6,358.5L451.6,361.0L454.0,361.0L454.0,359.5L456.4,359.5L456.4,359.8L458.8,359.8L458.8,359.3L461.2,359.3L461.2,359.4L463.6,359.4L463.6,358.7L466.0,358.7L466.0,358.1L468.3,358.1L468.3,359.2L470.7,359.2L470.7,359.2L473.1,359.2L473.1,359.0L475.5,359.0L475.5,359.7L477.9,359.7L477.9,359.5L480.3,359.5L480.3,358.7L482.7,358.7L482.7,359.3L485.1,359.3L485.1,358.5L487.5,358.5L487.5,358.9L489.9,358.9L489.9,358.2L492.2,358.2L492.2,359.7L494.6,359.7L494.6,358.6L497.0,358.6L497.0,358.6L499.4,358.6L499.4,358.4L501.8,358.4L501.8,359.6L504.2,359.6L504.2,359.4L506.6,359.4L506.6,358.4L509.0,358.4L509.0,359.4L511.4,359.4L511.4,358.6L513.8,358.6L513.8,359.5L516.2,359.5L516.2,358.8L518.5,358.8L518.5,358.7L520.9,358.7L520.9,359.3L523.3,359.3L523.3,358.9L525.7,358.9L525.7,359.7L528.1,359.7L528.1,359.4L530.5,359.4L530.5,358.7L532.9,358.7L532.9,358.7L535.3,358.7L535.3,359.4L537.7,359.4L537.7,358.6L540.1,358.6L540.1,359.5L542.4,359.5L542.4,358.5L544.8,358.5L544.8,357.7L547.2,357.7L547.2,358.4L549.6,358.4L549.6,359.2L552.0,359.2L552.0,359.7L554.4,359.7L554.4,360.9L556.8,360.9L556.8,358.9L559.2,358.9L559.2,358.2L561.6,358.2L561.6,359.0L564.0,359.0L564.0,359.6L566.3,359.6L566.3,358.9L568.7,358.9L568.7,358.6L571.1,358.6L571.1,358.5L573.5,358.5L573.5,359.7L575.9,359.7L575.9,358.9L578.3,358.9L578.3,358.6L580.7,358.6L580.7,406.3Z" fill="#279bc9"/>
<path d="M90.7,406.3L90.7,403.6L93.1,403.6L93.1,403.4L95.5,403.4L95.5,403.6L97.8,403.6L97.8,406.3ZM105.0,406.3L105.0,403.9L107.4,403.9L107.4,406.3ZM117.0,406.3L117.0,401.1L119.4,401.1L119.4,401.3L121.8,401.3L121.8,400.5L124.1,400.5L124.1,385.0L126.5,385.0L126.5,388.6L128.9,388.6L128.9,392.4L131.3,392.4L131.3,394.0L133.7,394.0L133.7,391.9L136.1,391.9L136.1,394.0L138.5,394.0L138.5,394.0L140.9,394.0L140.9,394.1L143.3,394.1L143.3,391.9L145.7,391.9L145.7,393.9L148.0,393.9L148.0,392.4L150.4,392.4L150.4,397.8L152.8,397.8L152.8,399.0L155.2,399.0L155.2,384.0L157.6,384.0L157.6,395.2L160.0,395.2L160.0,382.6L162.4,382.6L162.4,397.5L164.8,397.5L164.8,396.2L167.2,396.2L167.2,406.3ZM174.3,406.3L174.3,398.5L176.7,398.5L176.7,398.2L179.1,398.2L179.1,390.0L181.5,390.0L181.5,389.1L183.9,389.1L183.9,398.9L186.3,398.9L186.3,404.3L188.7,404.3L188.7,404.2L191.1,404.2L191.1,404.2L193.5,404.2L193.5,393.8L195.9,393.8L195.9,394.1L198.2,394.1L198.2,398.5L200.6,398.5L200.6,398.1L203.0,398.1L203.0,395.8L205.4,395.8L205.4,394.7L207.8,394.7L207.8,405.2L210.2,405.2L210.2,405.2L212.6,405.2L212.6,402.2L215.0,402.2L215.0,401.4L217.4,401.4L217.4,400.9L219.8,400.9L219.8,400.8L222.1,400.8L222.1,401.4L224.5,401.4L224.5,401.1L226.9,401.1L226.9,400.9L229.3,400.9L229.3,404.2L231.7,404.2L231.7,404.1L234.1,404.1L234.1,403.9L236.5,403.9L236.5,404.2L238.9,404.2L238.9,404.8L241.3,404.8L241.3,404.9L243.7,404.9L243.7,404.8L246.0,404.8L246.0,404.9L248.4,404.9L248.4,404.8L250.8,404.8L250.8,404.9L253.2,404.9L253.2,405.4L255.6,405.4L255.6,405.4L258.0,405.4L258.0,405.4L260.4,405.4L260.4,405.4L262.8,405.4L262.8,405.4L265.2,405.4L265.2,405.4L267.6,405.4L267.6,405.4L269.9,405.4L269.9,405.4L272.3,405.4L272.3,405.4L274.7,405.4L274.7,405.4L277.1,405.4L277.1,405.4L279.5,405.4L279.5,402.4L281.9,402.4L281.9,402.4L284.3,402.4L284.3,402.4L286.7,402.4L286.7,402.3L289.1,402.3L289.1,402.5L291.5,402.5L291.5,403.0L293.9,403.0L293.9,402.6L296.2,402.6L296.2,402.8L298.6,402.8L298.6,402.4L301.0,402.4L301.0,402.9L303.4,402.9L303.4,402.9L305.8,402.9L305.8,402.1L308.2,402.1L308.2,401.5L310.6,401.5L310.6,402.2L313.0,402.2L313.0,401.6L315.4,401.6L315.4,401.9L317.8,401.9L317.8,401.5L320.1,401.5L320.1,398.7L322.5,398.7L322.5,397.7L324.9,397.7L324.9,397.7L327.3,397.7L327.3,398.7L329.7,398.7L329.7,398.3L332.1,398.3L332.1,398.3L334.5,398.3L334.5,398.4L336.9,398.4L336.9,398.6L339.3,398.6L339.3,398.1L341.7,398.1L341.7,398.7L344.0,398.7L344.0,397.6L346.4,397.6L346.4,399.1L348.8,399.1L348.8,403.8L351.2,403.8L351.2,403.6L353.6,403.6L353.6,403.6L356.0,403.6L356.0,403.5L358.4,403.5L358.4,403.3L360.8,403.3L360.8,403.7L363.2,403.7L363.2,403.3L365.6,403.3L365.6,403.3L368.0,403.3L368.0,403.6L370.3,403.6L370.3,404.0L372.7,404.0L372.7,404.2L375.1,404.2L375.1,404.2L377.5,404.2L377.5,404.2L379.9,404.2L379.9,404.1L382.3,404.1L382.3,404.3L384.7,404.3L384.7,403.8L387.1,403.8L387.1,403.9L389.5,403.9L389.5,400.8L391.9,400.8L391.9,401.0L394.2,401.0L394.2,401.4L396.6,401.4L396.6,400.6L399.0,400.6L399.0,397.3L401.4,397.3L401.4,396.5L403.8,396.5L403.8,397.3L406.2,397.3L406.2,397.2L408.6,397.2L408.6,397.0L411.0,397.0L411.0,395.2L413.4,395.2L413.4,395.6L415.8,395.6L415.8,395.2L418.1,395.2L418.1,397.3L420.5,397.3L420.5,398.3L422.9,398.3L422.9,396.8L425.3,396.8L425.3,397.8L427.7,397.8L427.7,397.2L430.1,397.2L430.1,397.1L432.5,397.1L432.5,400.3L434.9,400.3L434.9,399.5L437.3,399.5L437.3,398.0L439.7,398.0L439.7,398.8L442.1,398.8L442.1,400.4L444.4,400.4L444.4,401.4L446.8,401.4L446.8,402.2L449.2,402.2L449.2,401.5L451.6,401.5L451.6,402.2L454.0,402.2L454.0,401.7L456.4,401.7L456.4,402.0L458.8,402.0L458.8,402.1L461.2,402.1L461.2,405.0L463.6,405.0L463.6,404.9L466.0,404.9L466.0,405.0L468.3,405.0L468.3,405.1L470.7,405.1L470.7,405.0L473.1,405.0L473.1,405.0L475.5,405.0L475.5,405.0L477.9,405.0L477.9,403.5L480.3,403.5L480.3,403.5L482.7,403.5L482.7,403.5L485.1,403.5L485.1,403.7L487.5,403.7L487.5,399.5L489.9,399.5L489.9,400.0L492.2,400.0L492.2,399.9L494.6,399.9L494.6,399.6L497.0,399.6L497.0,400.3L499.4,400.3L499.4,398.4L501.8,398.4L501.8,394.7L504.2,394.7L504.2,395.9L506.6,395.9L506.6,394.6L509.0,394.6L509.0,399.9L511.4,399.9L511.4,399.8L513.8,399.8L513.8,399.5L516.2,399.5L516.2,400.3L518.5,400.3L518.5,399.3L520.9,399.3L520.9,399.7L523.3,399.7L523.3,400.1L525.7,400.1L525.7,399.8L528.1,399.8L528.1,400.3L530.5,400.3L530.5,394.6L532.9,394.6L532.9,399.2L535.3,399.2L535.3,398.4L537.7,398.4L537.7,398.6L540.1,398.6L540.1,398.7L542.4,398.7L542.4,397.7L544.8,397.7L544.8,398.5L547.2,398.5L547.2,398.6L549.6,398.6L549.6,397.9L552.0,397.9L552.0,401.9L554.4,401.9L554.4,402.0L556.8,402.0L556.8,404.9L559.2,404.9L559.2,405.0L561.6,405.0L561.6,405.0L564.0,405.0L564.0,405.1L566.3,405.1L566.3,405.1L568.7,405.1L568.7,404.0L571.1,404.0L571.1,404.0L573.5,404.0L573.5,403.7L575.9,403.7L575.9,403.6L578.3,403.6L578.3,406.3Z" fill="#8dc63f"/>
<rect x="582.0" y="354.9" width="15.5" height="53.4" fill="#d9d9d9"/>
<text x="589.5" y="384.5" font-size="8.2" fill="#111" text-anchor="middle">6</text>
<rect x="34.4" y="413.5" width="547.6" height="53.4" fill="#f0f8ff"/>
<path d="M39.1,413.5V466.9M55.9,413.5V466.9M72.7,413.5V466.9M89.4,413.5V466.9M106.2,413.5V466.9M122.9,413.5V466.9M139.7,413.5V466.9M156.4,413.5V466.9M173.2,413.5V466.9M189.9,413.5V466.9M206.7,413.5V466.9M223.4,413.5V466.9M240.2,413.5V466.9M256.9,413.5V466.9M273.6,413.5V466.9M290.4,413.5V466.9M307.1,413.5V466.9M323.9,413.5V466.9M340.6,413.5V466.9M357.4,413.5V466.9M374.1,413.5V466.9M390.9,413.5V466.9M407.6,413.5V466.9M424.4,413.5V466.9M441.1,413.5V466.9M457.9,413.5V466.9M474.6,413.5V466.9M491.4,413.5V466.9M508.1,413.5V466.9M524.9,413.5V466.9M541.6,413.5V466.9M558.4,413.5V466.9M575.1,413.5V466.9M34.4,464.9H582.0M34.4,458.8H582.0M34.4,452.8H582.0M34.4,446.7H582.0M34.4,440.6H582.0M34.4,434.6H582.0M34.4,428.5H582.0M34.4,422.4H582.0M34.4,416.4H582.0" stroke="#fff" stroke-width="0.6" fill="none" opacity="0.6"/>
<path d="M64.4,464.9L64.4,459.5L66.8,459.5L66.8,459.7L69.2,459.7L69.2,459.6L71.6,459.6L71.6,459.4L73.9,459.4L73.9,459.6L76.3,459.6L76.3,454.2L78.7,454.2L78.7,454.0L81.1,454.0L81.1,455.4L83.5,455.4L83.5,455.3L85.9,455.3L85.9,452.0L88.3,452.0L88.3,452.6L90.7,452.6L90.7,452.5L93.1,452.5L93.1,435.5L95.5,435.5L95.5,436.0L97.8,436.0L97.8,436.7L100.2,436.7L100.2,437.0L102.6,437.0L102.6,434.8L105.0,434.8L105.0,436.1L107.4,436.1L107.4,437.0L109.8,437.0L109.8,436.7L112.2,436.7L112.2,437.1L114.6,437.1L114.6,437.3L117.0,437.3L117.0,436.4L119.4,436.4L119.4,436.1L121.8,436.1L121.8,435.5L124.1,435.5L124.1,433.6L126.5,433.6L126.5,432.6L128.9,432.6L128.9,432.6L131.3,432.6L131.3,433.9L133.7,433.9L133.7,433.5L136.1,433.5L136.1,434.2L138.5,434.2L138.5,432.8L140.9,432.8L140.9,434.2L143.3,434.2L143.3,433.5L145.7,433.5L145.7,433.2L148.0,433.2L148.0,432.6L150.4,432.6L150.4,432.6L152.8,432.6L152.8,433.1L155.2,433.1L155.2,433.5L157.6,433.5L157.6,432.6L160.0,432.6L160.0,432.8L162.4,432.8L162.4,432.5L164.8,432.5L164.8,433.6L167.2,433.6L167.2,433.7L169.6,433.7L169.6,433.9L171.9,433.9L171.9,433.3L174.3,433.3L174.3,432.6L176.7,432.6L176.7,430.6L179.1,430.6L179.1,431.9L181.5,431.9L181.5,426.1L183.9,426.1L183.9,426.1L186.3,426.1L186.3,425.5L188.7,425.5L188.7,425.8L191.1,425.8L191.1,426.6L193.5,426.6L193.5,425.6L195.9,425.6L195.9,425.9L198.2,425.9L198.2,425.8L200.6,425.8L200.6,426.9L203.0,426.9L203.0,425.9L205.4,425.9L205.4,431.1L207.8,431.1L207.8,431.6L210.2,431.6L210.2,416.1L212.6,416.1L212.6,417.9L215.0,417.9L215.0,417.3L217.4,417.3L217.4,417.9L219.8,417.9L219.8,417.2L222.1,417.2L222.1,418.0L224.5,418.0L224.5,417.5L226.9,417.5L226.9,419.0L229.3,419.0L229.3,417.2L231.7,417.2L231.7,417.7L234.1,417.7L234.1,417.9L236.5,417.9L236.5,418.6L238.9,418.6L238.9,419.0L241.3,419.0L241.3,418.9L243.7,418.9L243.7,418.9L246.0,418.9L246.0,418.3L248.4,418.3L248.4,417.9L250.8,417.9L250.8,417.7L253.2,417.7L253.2,418.9L255.6,418.9L255.6,417.9L258.0,417.9L258.0,419.0L260.4,419.0L260.4,418.7L262.8,418.7L262.8,417.8L265.2,417.8L265.2,418.0L267.6,418.0L267.6,417.9L269.9,417.9L269.9,417.9L272.3,417.9L272.3,417.8L274.7,417.8L274.7,418.4L277.1,418.4L277.1,418.1L279.5,418.1L279.5,419.4L281.9,419.4L281.9,418.2L284.3,418.2L284.3,418.4L286.7,418.4L286.7,418.9L289.1,418.9L289.1,418.1L291.5,418.1L291.5,419.5L293.9,419.5L293.9,418.8L296.2,418.8L296.2,419.5L298.6,419.5L298.6,419.1L301.0,419.1L301.0,419.4L303.4,419.4L303.4,419.0L305.8,419.0L305.8,419.0L308.2,419.0L308.2,418.5L310.6,418.5L310.6,417.5L313.0,417.5L313.0,419.8L315.4,419.8L315.4,418.4L317.8,418.4L317.8,419.1L320.1,419.1L320.1,420.0L322.5,420.0L322.5,419.8L324.9,419.8L324.9,418.9L327.3,418.9L327.3,418.4L329.7,418.4L329.7,418.5L332.1,418.5L332.1,418.9L334.5,418.9L334.5,417.1L336.9,417.1L336.9,418.0L339.3,418.0L339.3,417.2L341.7,417.2L341.7,417.3L344.0,417.3L344.0,419.8L346.4,419.8L346.4,417.6L348.8,417.6L348.8,417.7L351.2,417.7L351.2,417.2L353.6,417.2L353.6,417.4L356.0,417.4L356.0,416.9L358.4,416.9L358.4,418.7L360.8,418.7L360.8,418.5L363.2,418.5L363.2,416.9L365.6,416.9L365.6,418.9L368.0,418.9L368.0,417.9L370.3,417.9L370.3,417.6L372.7,417.6L372.7,418.6L375.1,418.6L375.1,418.3L377.5,418.3L377.5,417.5L379.9,417.5L379.9,418.1L382.3,418.1L382.3,417.7L384.7,417.7L384.7,416.9L387.1,416.9L387.1,417.4L389.5,417.4L389.5,416.3L391.9,416.3L391.9,418.4L394.2,418.4L394.2,418.1L396.6,418.1L396.6,418.0L399.0,418.0L399.0,416.1L401.4,416.1L401.4,416.9L403.8,416.9L403.8,417.5L406.2,417.5L406.2,417.4L408.6,417.4L408.6,418.0L411.0,418.0L411.0,418.2L413.4,418.2L413.4,418.3L415.8,418.3L415.8,417.6L418.1,417.6L418.1,418.3L420.5,418.3L420.5,419.0L422.9,419.0L422.9,419.3L425.3,419.3L425.3,421.3L427.7,421.3L427.7,419.3L430.1,419.3L430.1,418.7L432.5,418.7L432.5,418.6L434.9,418.6L434.9,419.8L437.3,419.8L437.3,419.3L439.7,419.3L439.7,418.7L442.1,418.7L442.1,418.9L444.4,418.9L444.4,419.2L446.8,419.2L446.8,418.4L449.2,418.4L449.2,419.7L451.6,419.7L451.6,419.9L454.0,419.9L454.0,419.9L456.4,419.9L456.4,419.3L458.8,419.3L458.8,418.2L461.2,418.2L461.2,419.6L463.6,419.6L463.6,419.5L466.0,419.5L466.0,418.5L468.3,418.5L468.3,419.3L470.7,419.3L470.7,419.9L473.1,419.9L473.1,418.6L475.5,418.6L475.5,419.7L477.9,419.7L477.9,419.9L480.3,419.9L480.3,419.4L482.7,419.4L482.7,420.2L485.1,420.2L485.1,420.6L487.5,420.6L487.5,420.3L489.9,420.3L489.9,420.3L492.2,420.3L492.2,421.2L494.6,421.2L494.6,421.0L497.0,421.0L497.0,421.1L499.4,421.1L499.4,419.4L501.8,419.4L501.8,420.9L504.2,420.9L504.2,420.3L506.6,420.3L506.6,419.3L509.0,419.3L509.0,419.3L511.4,419.3L511.4,419.9L513.8,419.9L513.8,418.3L516.2,418.3L516.2,419.8L518.5,419.8L518.5,419.2L520.9,419.2L520.9,418.9L523.3,418.9L523.3,418.6L525.7,418.6L525.7,418.4L528.1,418.4L528.1,419.2L530.5,419.2L530.5,419.2L532.9,419.2L532.9,418.8L535.3,418.8L535.3,418.1L537.7,418.1L537.7,419.9L540.1,419.9L540.1,418.6L542.4,418.6L542.4,420.8L544.8,420.8L544.8,419.0L547.2,419.0L547.2,419.4L549.6,419.4L549.6,419.4L552.0,419.4L552.0,418.6L554.4,418.6L554.4,420.6L556.8,420.6L556.8,419.8L559.2,419.8L559.2,418.5L561.6,418.5L561.6,419.7L564.0,419.7L564.0,418.8L566.3,418.8L566.3,419.4L568.7,419.4L568.7,421.3L571.1,421.3L571.1,419.4L573.5,419.4L573.5,418.3L575.9,418.3L575.9,418.5L578.3,418.5L578.3,418.5L580.7,418.5L580.7,464.9Z" fill="#279bc9"/>
<path d="M71.6,464.9L71.6,463.0L73.9,463.0L73.9,463.0L76.3,463.0L76.3,462.5L78.7,462.5L78.7,462.3L81.1,462.3L81.1,462.4L83.5,462.4L83.5,462.3L85.9,462.3L85.9,457.6L88.3,457.6L88.3,457.2L90.7,457.2L90.7,452.5L93.1,452.5L93.1,440.0L95.5,440.0L95.5,438.7L97.8,438.7L97.8,456.8L100.2,456.8L100.2,446.9L102.6,446.9L102.6,445.8L105.0,445.8L105.0,454.9L107.4,454.9L107.4,464.0L109.8,464.0L109.8,464.0L112.2,464.0L112.2,464.0L114.6,464.0L114.6,453.9L117.0,453.9L117.0,454.4L119.4,454.4L119.4,449.7L121.8,449.7L121.8,449.2L124.1,449.2L124.1,449.2L126.5,449.2L126.5,448.5L128.9,448.5L128.9,450.5L131.3,450.5L131.3,449.3L133.7,449.3L133.7,449.7L136.1,449.7L136.1,451.1L138.5,451.1L138.5,448.4L140.9,448.4L140.9,449.5L143.3,449.5L143.3,450.7L145.7,450.7L145.7,450.6L148.0,450.6L148.0,456.1L150.4,456.1L150.4,455.2L152.8,455.2L152.8,454.4L155.2,454.4L155.2,454.9L157.6,454.9L157.6,453.9L160.0,453.9L160.0,453.6L162.4,453.6L162.4,455.9L164.8,455.9L164.8,456.2L167.2,456.2L167.2,464.0L169.6,464.0L169.6,464.0L171.9,464.0L171.9,464.0L174.3,464.0L174.3,457.8L176.7,457.8L176.7,457.6L179.1,457.6L179.1,450.5L181.5,450.5L181.5,450.5L183.9,450.5L183.9,451.8L186.3,451.8L186.3,456.8L188.7,456.8L188.7,457.9L191.1,457.9L191.1,457.3L193.5,457.3L193.5,458.5L195.9,458.5L195.9,459.3L198.2,459.3L198.2,457.6L200.6,457.6L200.6,458.8L203.0,458.8L203.0,458.9L205.4,458.9L205.4,458.5L207.8,458.5L207.8,464.0L210.2,464.0L210.2,464.0L212.6,464.0L212.6,461.1L215.0,461.1L215.0,460.5L217.4,460.5L217.4,460.9L219.8,460.9L219.8,460.2L222.1,460.2L222.1,460.5L224.5,460.5L224.5,460.0L226.9,460.0L226.9,460.8L229.3,460.8L229.3,460.5L231.7,460.5L231.7,462.5L234.1,462.5L234.1,462.4L236.5,462.4L236.5,462.4L238.9,462.4L238.9,462.5L241.3,462.5L241.3,462.5L243.7,462.5L243.7,462.5L246.0,462.5L246.0,461.9L248.4,461.9L248.4,462.2L250.8,462.2L250.8,462.5L253.2,462.5L253.2,462.3L255.6,462.3L255.6,462.6L258.0,462.6L258.0,462.5L260.4,462.5L260.4,459.8L262.8,459.8L262.8,460.0L265.2,460.0L265.2,459.7L267.6,459.7L267.6,455.6L269.9,455.6L269.9,454.5L272.3,454.5L272.3,454.7L274.7,454.7L274.7,441.9L277.1,441.9L277.1,446.3L279.5,446.3L279.5,445.1L281.9,445.1L281.9,444.4L284.3,444.4L284.3,438.2L286.7,438.2L286.7,436.7L289.1,436.7L289.1,439.3L291.5,439.3L291.5,440.1L293.9,440.1L293.9,445.8L296.2,445.8L296.2,445.1L298.6,445.1L298.6,444.0L301.0,444.0L301.0,448.1L303.4,448.1L303.4,445.5L305.8,445.5L305.8,448.8L308.2,448.8L308.2,450.0L310.6,450.0L310.6,450.7L313.0,450.7L313.0,450.7L315.4,450.7L315.4,453.3L317.8,453.3L317.8,454.6L320.1,454.6L320.1,454.0L322.5,454.0L322.5,454.5L324.9,454.5L324.9,457.1L327.3,457.1L327.3,456.7L329.7,456.7L329.7,456.9L332.1,456.9L332.1,457.5L334.5,457.5L334.5,458.9L336.9,458.9L336.9,459.3L339.3,459.3L339.3,459.5L341.7,459.5L341.7,459.9L344.0,459.9L344.0,459.3L346.4,459.3L346.4,459.3L348.8,459.3L348.8,460.5L351.2,460.5L351.2,460.6L353.6,460.6L353.6,460.6L356.0,460.6L356.0,460.6L358.4,460.6L358.4,461.0L360.8,461.0L360.8,460.5L363.2,460.5L363.2,462.3L365.6,462.3L365.6,462.3L368.0,462.3L368.0,462.4L370.3,462.4L370.3,462.3L372.7,462.3L372.7,462.4L375.1,462.4L375.1,462.1L377.5,462.1L377.5,461.4L379.9,461.4L379.9,460.7L382.3,460.7L382.3,461.2L384.7,461.2L384.7,461.3L387.1,461.3L387.1,454.5L389.5,454.5L389.5,454.5L391.9,454.5L391.9,456.3L394.2,456.3L394.2,455.4L396.6,455.4L396.6,454.8L399.0,454.8L399.0,454.5L401.4,454.5L401.4,449.8L403.8,449.8L403.8,452.4L406.2,452.4L406.2,452.3L408.6,452.3L408.6,450.6L411.0,450.6L411.0,455.2L413.4,455.2L413.4,454.9L415.8,454.9L415.8,450.4L418.1,450.4L418.1,454.8L420.5,454.8L420.5,455.2L422.9,455.2L422.9,455.0L425.3,455.0L425.3,455.3L427.7,455.3L427.7,456.6L430.1,456.6L430.1,455.7L432.5,455.7L432.5,458.1L434.9,458.1L434.9,458.4L437.3,458.4L437.3,458.2L439.7,458.2L439.7,459.1L442.1,459.1L442.1,460.8L444.4,460.8L444.4,460.3L446.8,460.3L446.8,460.4L449.2,460.4L449.2,460.9L451.6,460.9L451.6,460.2L454.0,460.2L454.0,460.6L456.4,460.6L456.4,461.1L458.8,461.1L458.8,460.4L461.2,460.4L461.2,463.0L463.6,463.0L463.6,463.0L466.0,463.0L466.0,462.8L468.3,462.8L468.3,462.9L470.7,462.9L470.7,459.6L473.1,459.6L473.1,460.1L475.5,460.1L475.5,460.4L477.9,460.4L477.9,460.2L480.3,460.2L480.3,460.5L482.7,460.5L482.7,459.9L485.1,459.9L485.1,460.2L487.5,460.2L487.5,460.4L489.9,460.4L489.9,460.6L492.2,460.6L492.2,455.0L494.6,455.0L494.6,457.1L497.0,457.1L497.0,457.0L499.4,457.0L499.4,456.8L501.8,456.8L501.8,456.6L504.2,456.6L504.2,456.9L506.6,456.9L506.6,454.5L509.0,454.5L509.0,453.3L511.4,453.3L511.4,455.3L513.8,455.3L513.8,451.5L516.2,451.5L516.2,452.4L518.5,452.4L518.5,451.9L520.9,451.9L520.9,452.5L523.3,452.5L523.3,452.5L525.7,452.5L525.7,451.4L528.1,451.4L528.1,451.5L530.5,451.5L530.5,456.8L532.9,456.8L532.9,454.7L535.3,454.7L535.3,455.3L537.7,455.3L537.7,455.7L540.1,455.7L540.1,455.2L542.4,455.2L542.4,457.7L544.8,457.7L544.8,458.0L547.2,458.0L547.2,458.3L549.6,458.3L549.6,458.7L552.0,458.7L552.0,457.8L554.4,457.8L554.4,458.0L556.8,458.0L556.8,461.0L559.2,461.0L559.2,459.4L561.6,459.4L561.6,460.9L564.0,460.9L564.0,463.0L566.3,463.0L566.3,462.9L568.7,462.9L568.7,463.0L571.1,463.0L571.1,463.0L573.5,463.0L573.5,462.8L575.9,462.8L575.9,462.6L578.3,462.6L578.3,464.9Z" fill="#8dc63f"/>
<rect x="582.0" y="413.5" width="15.5" height="53.4" fill="#d9d9d9"/>
<text x="589.5" y="443.1" font-size="8.2" fill="#111" text-anchor="middle">7</text>
<rect x="34.4" y="472.0" width="547.6" height="53.4" fill="#f0f8ff"/>
<path d="M39.1,472.0V525.4M55.9,472.0V525.4M72.7,472.0V525.4M89.4,472.0V525.4M106.2,472.0V525.4M122.9,472.0V525.4M139.7,472.0V525.4M156.4,472.0V525.4M173.2,472.0V525.4M189.9,472.0V525.4M206.7,472.0V525.4M223.4,472.0V525.4M240.2,472.0V525.4M256.9,472.0V525.4M273.6,472.0V525.4M290.4,472.0V525.4M307.1,472.0V525.4M323.9,472.0V525.4M340.6,472.0V525.4M357.4,472.0V525.4M374.1,472.0V525.4M390.9,472.0V525.4M407.6,472.0V525.4M424.4,472.0V525.4M441.1,472.0V525.4M457.9,472.0V525.4M474.6,472.0V525.4M491.4,472.0V525.4M508.1,472.0V525.4M524.9,472.0V525.4M541.6,472.0V525.4M558.4,472.0V525.4M575.1,472.0V525.4M34.4,523.4H582.0M34.4,517.3H582.0M34.4,511.3H582.0M34.4,505.2H582.0M34.4,499.2H582.0M34.4,493.1H582.0M34.4,487.0H582.0M34.4,481.0H582.0M34.4,474.9H582.0" stroke="#fff" stroke-width="0.6" fill="none" opacity="0.6"/>
<path d="M35.7,523.4L35.7,523.0L38.1,523.0L38.1,523.0L40.5,523.0L40.5,523.0L42.9,523.0L42.9,523.4ZM47.7,523.4L47.7,523.0L50.0,523.0L50.0,523.0L52.4,523.0L52.4,523.4ZM54.8,523.4L54.8,523.0L57.2,523.0L57.2,523.0L59.6,523.0L59.6,523.0L62.0,523.0L62.0,523.0L64.4,523.0L64.4,523.0L66.8,523.0L66.8,523.0L69.2,523.0L69.2,523.0L71.6,523.0L71.6,523.0L73.9,523.0L73.9,523.0L76.3,523.0L76.3,523.0L78.7,523.0L78.7,523.0L81.1,523.0L81.1,519.8L83.5,519.8L83.5,519.7L85.9,519.7L85.9,519.6L88.3,519.6L88.3,519.9L90.7,519.9L90.7,519.6L93.1,519.6L93.1,519.8L95.5,519.8L95.5,519.7L97.8,519.7L97.8,519.8L100.2,519.8L100.2,519.8L102.6,519.8L102.6,519.7L105.0,519.7L105.0,519.8L107.4,519.8L107.4,519.7L109.8,519.7L109.8,516.9L112.2,516.9L112.2,517.0L114.6,517.0L114.6,517.1L117.0,517.1L117.0,516.8L119.4,516.8L119.4,517.0L121.8,517.0L121.8,517.1L124.1,517.1L124.1,516.9L126.5,516.9L126.5,515.9L128.9,515.9L128.9,516.3L131.3,516.3L131.3,516.0L133.7,516.0L133.7,516.2L136.1,516.2L136.1,516.0L138.5,516.0L138.5,516.3L140.9,516.3L140.9,514.2L143.3,514.2L143.3,514.2L145.7,514.2L145.7,514.0L148.0,514.0L148.0,513.9L150.4,513.9L150.4,512.1L152.8,512.1L152.8,512.5L155.2,512.5L155.2,512.1L157.6,512.1L157.6,506.3L160.0,506.3L160.0,505.9L162.4,505.9L162.4,505.8L164.8,505.8L164.8,505.8L167.2,505.8L167.2,505.7L169.6,505.7L169.6,505.1L171.9,505.1L171.9,505.8L174.3,505.8L174.3,505.1L176.7,505.1L176.7,505.5L179.1,505.5L179.1,505.8L181.5,505.8L181.5,506.0L183.9,506.0L183.9,506.2L186.3,506.2L186.3,505.2L188.7,505.2L188.7,505.8L191.1,505.8L191.1,506.0L193.5,506.0L193.5,494.4L195.9,494.4L195.9,481.5L198.2,481.5L198.2,482.7L200.6,482.7L200.6,483.7L203.0,483.7L203.0,482.3L205.4,482.3L205.4,482.6L207.8,482.6L207.8,481.9L210.2,481.9L210.2,479.5L212.6,479.5L212.6,480.6L215.0,480.6L215.0,481.1L217.4,481.1L217.4,480.9L219.8,480.9L219.8,481.1L222.1,481.1L222.1,480.7L224.5,480.7L224.5,480.9L226.9,480.9L226.9,480.2L229.3,480.2L229.3,479.7L231.7,479.7L231.7,479.8L234.1,479.8L234.1,480.1L236.5,480.1L236.5,479.0L238.9,479.0L238.9,478.6L241.3,478.6L241.3,479.2L243.7,479.2L243.7,478.1L246.0,478.1L246.0,477.1L248.4,477.1L248.4,477.0L250.8,477.0L250.8,477.4L253.2,477.4L253.2,481.2L255.6,481.2L255.6,480.9L258.0,480.9L258.0,481.5L260.4,481.5L260.4,481.8L262.8,481.8L262.8,481.1L265.2,481.1L265.2,481.7L267.6,481.7L267.6,481.1L269.9,481.1L269.9,481.3L272.3,481.3L272.3,480.4L274.7,480.4L274.7,479.3L277.1,479.3L277.1,478.2L279.5,478.2L279.5,480.2L281.9,480.2L281.9,479.4L284.3,479.4L284.3,478.5L286.7,478.5L286.7,478.7L289.1,478.7L289.1,479.7L291.5,479.7L291.5,479.4L293.9,479.4L293.9,478.4L296.2,478.4L296.2,478.5L298.6,478.5L298.6,478.9L301.0,478.9L301.0,478.7L303.4,478.7L303.4,477.6L305.8,477.6L305.8,478.5L308.2,478.5L308.2,477.2L310.6,477.2L310.6,478.1L313.0,478.1L313.0,477.6L315.4,477.6L315.4,477.7L317.8,477.7L317.8,477.8L320.1,477.8L320.1,477.6L322.5,477.6L322.5,477.2L324.9,477.2L324.9,477.1L327.3,477.1L327.3,477.4L329.7,477.4L329.7,477.6L332.1,477.6L332.1,477.2L334.5,477.2L334.5,477.3L336.9,477.3L336.9,477.5L339.3,477.5L339.3,478.3L341.7,478.3L341.7,477.5L344.0,477.5L344.0,477.4L346.4,477.4L346.4,478.5L348.8,478.5L348.8,477.9L351.2,477.9L351.2,478.2L353.6,478.2L353.6,478.6L356.0,478.6L356.0,478.4L358.4,478.4L358.4,478.3L360.8,478.3L360.8,478.3L363.2,478.3L363.2,478.3L365.6,478.3L365.6,476.9L368.0,476.9L368.0,477.7L370.3,477.7L370.3,478.3L372.7,478.3L372.7,476.0L375.1,476.0L375.1,478.6L377.5,478.6L377.5,477.5L379.9,477.5L379.9,476.7L382.3,476.7L382.3,477.3L384.7,477.3L384.7,476.0L387.1,476.0L387.1,476.0L389.5,476.0L389.5,477.5L391.9,477.5L391.9,477.6L394.2,477.6L394.2,476.3L396.6,476.3L396.6,476.7L399.0,476.7L399.0,477.4L401.4,477.4L401.4,477.2L403.8,477.2L403.8,477.4L406.2,477.4L406.2,476.7L408.6,476.7L408.6,476.6L411.0,476.6L411.0,476.1L413.4,476.1L413.4,476.7L415.8,476.7L415.8,476.1L418.1,476.1L418.1,477.5L420.5,477.5L420.5,475.6L422.9,475.6L422.9,476.6L425.3,476.6L425.3,476.1L427.7,476.1L427.7,476.9L430.1,476.9L430.1,476.4L432.5,476.4L432.5,477.5L434.9,477.5L434.9,476.3L437.3,476.3L437.3,476.5L439.7,476.5L439.7,477.5L442.1,477.5L442.1,476.8L444.4,476.8L444.4,475.2L446.8,475.2L446.8,476.9L449.2,476.9L449.2,476.6L451.6,476.6L451.6,476.0L454.0,476.0L454.0,477.6L456.4,477.6L456.4,477.7L458.8,477.7L458.8,476.1L461.2,476.1L461.2,477.0L463.6,477.0L463.6,476.4L466.0,476.4L466.0,477.3L468.3,477.3L468.3,476.8L470.7,476.8L470.7,476.6L473.1,476.6L473.1,477.1L475.5,477.1L475.5,476.0L477.9,476.0L477.9,478.4L480.3,478.4L480.3,478.8L482.7,478.8L482.7,477.0L485.1,477.0L485.1,475.6L487.5,475.6L487.5,476.3L489.9,476.3L489.9,478.0L492.2,478.0L492.2,477.0L494.6,477.0L494.6,476.6L497.0,476.6L497.0,476.8L499.4,476.8L499.4,476.8L501.8,476.8L501.8,477.5L504.2,477.5L504.2,476.3L506.6,476.3L506.6,477.5L509.0,477.5L509.0,475.3L511.4,475.3L511.4,477.7L513.8,477.7L513.8,476.2L516.2,476.2L516.2,477.2L518.5,477.2L518.5,476.3L520.9,476.3L520.9,477.3L523.3,477.3L523.3,477.0L525.7,477.0L525.7,476.4L528.1,476.4L528.1,477.1L530.5,477.1L530.5,476.1L532.9,476.1L532.9,476.1L535.3,476.1L535.3,477.3L537.7,477.3L537.7,476.9L540.1,476.9L540.1,475.5L542.4,475.5L542.4,476.6L544.8,476.6L544.8,476.6L547.2,476.6L547.2,475.6L549.6,475.6L549.6,477.7L552.0,477.7L552.0,477.5L554.4,477.5L554.4,477.6L556.8,477.6L556.8,476.6L559.2,476.6L559.2,477.3L561.6,477.3L561.6,477.3L564.0,477.3L564.0,476.8L566.3,476.8L566.3,477.1L568.7,477.1L568.7,476.1L571.1,476.1L571.1,476.1L573.5,476.1L573.5,476.8L575.9,476.8L575.9,477.1L578.3,477.1L578.3,477.4L580.7,477.4L580.7,523.4Z" fill="#279bc9"/>
<path d="M81.1,523.4L81.1,520.4L83.5,520.4L83.5,520.9L85.9,520.9L85.9,520.6L88.3,520.6L88.3,520.8L90.7,520.8L90.7,520.6L93.1,520.6L93.1,521.9L95.5,521.9L95.5,522.0L97.8,522.0L97.8,522.1L100.2,522.1L100.2,521.9L102.6,521.9L102.6,522.1L105.0,522.1L105.0,522.0L107.4,522.0L107.4,521.9L109.8,521.9L109.8,522.8L112.2,522.8L112.2,522.8L114.6,522.8L114.6,522.8L117.0,522.8L117.0,522.1L119.4,522.1L119.4,521.9L121.8,521.9L121.8,522.1L124.1,522.1L124.1,521.9L126.5,521.9L126.5,521.9L128.9,521.9L128.9,522.0L131.3,522.0L131.3,521.8L133.7,521.8L133.7,521.9L136.1,521.9L136.1,522.1L138.5,522.1L138.5,521.9L140.9,521.9L140.9,520.5L143.3,520.5L143.3,520.7L145.7,520.7L145.7,520.8L148.0,520.8L148.0,520.3L150.4,520.3L150.4,521.9L152.8,521.9L152.8,522.1L155.2,522.1L155.2,516.5L157.6,516.5L157.6,517.5L160.0,517.5L160.0,516.5L162.4,516.5L162.4,516.4L164.8,516.4L164.8,517.5L167.2,517.5L167.2,522.3L169.6,522.3L169.6,522.3L171.9,522.3L171.9,522.3L174.3,522.3L174.3,522.3L176.7,522.3L176.7,516.3L179.1,516.3L179.1,517.5L181.5,517.5L181.5,517.5L183.9,517.5L183.9,517.5L186.3,517.5L186.3,522.3L188.7,522.3L188.7,522.3L191.1,522.3L191.1,522.3L193.5,522.3L193.5,510.8L195.9,510.8L195.9,517.0L198.2,517.0L198.2,517.6L200.6,517.6L200.6,517.3L203.0,517.3L203.0,516.6L205.4,516.6L205.4,511.1L207.8,511.1L207.8,523.1L210.2,523.1L210.2,523.1L212.6,523.1L212.6,519.2L215.0,519.2L215.0,519.1L217.4,519.1L217.4,518.6L219.8,518.6L219.8,515.8L222.1,515.8L222.1,518.5L224.5,518.5L224.5,518.9L226.9,518.9L226.9,518.5L229.3,518.5L229.3,518.9L231.7,518.9L231.7,516.4L234.1,516.4L234.1,517.2L236.5,517.2L236.5,516.9L238.9,516.9L238.9,520.0L241.3,520.0L241.3,519.3L243.7,519.3L243.7,519.8L246.0,519.8L246.0,519.4L248.4,519.4L248.4,521.3L250.8,521.3L250.8,521.0L253.2,521.0L253.2,521.1L255.6,521.1L255.6,521.1L258.0,521.1L258.0,521.2L260.4,521.2L260.4,521.9L262.8,521.9L262.8,521.9L265.2,521.9L265.2,521.8L267.6,521.8L267.6,521.9L269.9,521.9L269.9,521.9L272.3,521.9L272.3,512.9L274.7,512.9L274.7,514.9L277.1,514.9L277.1,515.7L279.5,515.7L279.5,518.6L281.9,518.6L281.9,518.3L284.3,518.3L284.3,518.6L286.7,518.6L286.7,518.0L289.1,518.0L289.1,514.0L291.5,514.0L291.5,515.1L293.9,515.1L293.9,517.6L296.2,517.6L296.2,517.2L298.6,517.2L298.6,512.4L301.0,512.4L301.0,513.1L303.4,513.1L303.4,516.8L305.8,516.8L305.8,516.2L308.2,516.2L308.2,515.7L310.6,515.7L310.6,516.0L313.0,516.0L313.0,517.6L315.4,517.6L315.4,517.8L317.8,517.8L317.8,518.0L320.1,518.0L320.1,517.8L322.5,517.8L322.5,514.8L324.9,514.8L324.9,515.7L327.3,515.7L327.3,518.5L329.7,518.5L329.7,517.9L332.1,517.9L332.1,518.0L334.5,518.0L334.5,518.3L336.9,518.3L336.9,518.8L339.3,518.8L339.3,518.1L341.7,518.1L341.7,519.8L344.0,519.8L344.0,519.5L346.4,519.5L346.4,520.1L348.8,520.1L348.8,519.6L351.2,519.6L351.2,520.1L353.6,520.1L353.6,520.1L356.0,520.1L356.0,519.6L358.4,519.6L358.4,519.8L360.8,519.8L360.8,520.0L363.2,520.0L363.2,521.9L365.6,521.9L365.6,521.9L368.0,521.9L368.0,521.9L370.3,521.9L370.3,521.9L372.7,521.9L372.7,522.0L375.1,522.0L375.1,521.8L377.5,521.8L377.5,522.0L379.9,522.0L379.9,522.1L382.3,522.1L382.3,522.1L384.7,522.1L384.7,522.1L387.1,522.1L387.1,521.9L389.5,521.9L389.5,520.4L391.9,520.4L391.9,520.7L394.2,520.7L394.2,520.7L396.6,520.7L396.6,520.7L399.0,520.7L399.0,520.5L401.4,520.5L401.4,520.3L403.8,520.3L403.8,515.9L406.2,515.9L406.2,516.0L408.6,516.0L408.6,517.7L411.0,517.7L411.0,517.4L413.4,517.4L413.4,518.1L415.8,518.1L415.8,509.7L418.1,509.7L418.1,515.6L420.5,515.6L420.5,512.0L422.9,512.0L422.9,510.6L425.3,510.6L425.3,518.0L427.7,518.0L427.7,517.4L430.1,517.4L430.1,517.8L432.5,517.8L432.5,518.7L434.9,518.7L434.9,518.8L437.3,518.8L437.3,518.6L439.7,518.6L439.7,519.1L442.1,519.1L442.1,521.3L444.4,521.3L444.4,521.0L446.8,521.0L446.8,521.3L449.2,521.3L449.2,521.3L451.6,521.3L451.6,521.3L454.0,521.3L454.0,521.3L456.4,521.3L456.4,521.3L458.8,521.3L458.8,520.9L461.2,520.9L461.2,522.6L463.6,522.6L463.6,522.6L466.0,522.6L466.0,522.6L468.3,522.6L468.3,522.6L470.7,522.6L470.7,522.6L473.1,522.6L473.1,521.0L475.5,521.0L475.5,521.1L477.9,521.1L477.9,520.9L480.3,520.9L480.3,521.4L482.7,521.4L482.7,521.2L485.1,521.2L485.1,521.2L487.5,521.2L487.5,521.4L489.9,521.4L489.9,520.8L492.2,520.8L492.2,520.9L494.6,520.9L494.6,521.3L497.0,521.3L497.0,521.2L499.4,521.2L499.4,519.2L501.8,519.2L501.8,518.8L504.2,518.8L504.2,519.1L506.6,519.1L506.6,518.6L509.0,518.6L509.0,519.0L511.4,519.0L511.4,515.0L513.8,515.0L513.8,515.5L516.2,515.5L516.2,522.8L518.5,522.8L518.5,516.6L520.9,516.6L520.9,515.9L523.3,515.9L523.3,511.6L525.7,511.6L525.7,513.7L528.1,513.7L528.1,517.3L530.5,517.3L530.5,516.4L532.9,516.4L532.9,514.9L535.3,514.9L535.3,515.5L537.7,515.5L537.7,515.0L540.1,515.0L540.1,515.5L542.4,515.5L542.4,515.8L544.8,515.8L544.8,518.7L547.2,518.7L547.2,511.1L549.6,511.1L549.6,510.4L552.0,510.4L552.0,522.3L554.4,522.3L554.4,522.3L556.8,522.3L556.8,516.7L559.2,516.7L559.2,517.4L561.6,517.4L561.6,516.5L564.0,516.5L564.0,519.4L566.3,519.4L566.3,519.8L568.7,519.8L568.7,517.1L571.1,517.1L571.1,516.3L573.5,516.3L573.5,522.0L575.9,522.0L575.9,522.1L578.3,522.1L578.3,523.4Z" fill="#8dc63f"/>
<rect x="582.0" y="472.0" width="15.5" height="53.4" fill="#d9d9d9"/>
<text x="589.5" y="501.6" font-size="8.2" fill="#111" text-anchor="middle">8</text>
<rect x="34.4" y="530.5" width="547.6" height="53.4" fill="#f0f8ff"/>
<path d="M39.1,530.5V583.9M55.9,530.5V583.9M72.7,530.5V583.9M89.4,530.5V583.9M106.2,530.5V583.9M122.9,530.5V583.9M139.7,530.5V583.9M156.4,530.5V583.9M173.2,530.5V583.9M189.9,530.5V583.9M206.7,530.5V583.9M223.4,530.5V583.9M240.2,530.5V583.9M256.9,530.5V583.9M273.6,530.5V583.9M290.4,530.5V583.9M307.1,530.5V583.9M323.9,530.5V583.9M340.6,530.5V583.9M357.4,530.5V583.9M374.1,530.5V583.9M390.9,530.5V583.9M407.6,530.5V583.9M424.4,530.5V583.9M441.1,530.5V583.9M457.9,530.5V583.9M474.6,530.5V583.9M491.4,530.5V583.9M508.1,530.5V583.9M524.9,530.5V583.9M541.6,530.5V583.9M558.4,530.5V583.9M575.1,530.5V583.9M34.4,581.9H582.0M34.4,575.9H582.0M34.4,569.8H582.0M34.4,563.8H582.0M34.4,557.7H582.0M34.4,551.6H582.0M34.4,545.6H582.0M34.4,539.5H582.0M34.4,533.4H582.0" stroke="#fff" stroke-width="0.6" fill="none" opacity="0.6"/>
<path d="M62.0,581.9L62.0,581.4L64.4,581.4L64.4,581.9ZM152.8,581.9L152.8,581.4L155.2,581.4L155.2,581.9ZM181.5,581.9L181.5,562.7L183.9,562.7L183.9,551.6L186.3,551.6L186.3,550.9L188.7,550.9L188.7,551.1L191.1,551.1L191.1,551.8L193.5,551.8L193.5,551.6L195.9,551.6L195.9,551.2L198.2,551.2L198.2,535.0L200.6,535.0L200.6,534.9L203.0,534.9L203.0,535.3L205.4,535.3L205.4,535.8L207.8,535.8L207.8,535.8L210.2,535.8L210.2,534.8L212.6,534.8L212.6,533.5L215.0,533.5L215.0,534.5L217.4,534.5L217.4,534.9L219.8,534.9L219.8,536.5L222.1,536.5L222.1,534.7L224.5,534.7L224.5,535.3L226.9,535.3L226.9,537.2L229.3,537.2L229.3,534.9L231.7,534.9L231.7,536.4L234.1,536.4L234.1,534.9L236.5,534.9L236.5,536.3L238.9,536.3L238.9,535.2L241.3,535.2L241.3,535.8L243.7,535.8L243.7,535.2L246.0,535.2L246.0,536.9L248.4,536.9L248.4,535.9L250.8,535.9L250.8,535.9L253.2,535.9L253.2,535.6L255.6,535.6L255.6,537.0L258.0,537.0L258.0,536.3L260.4,536.3L260.4,537.0L262.8,537.0L262.8,535.9L265.2,535.9L265.2,535.9L267.6,535.9L267.6,537.0L269.9,537.0L269.9,536.7L272.3,536.7L272.3,536.6L274.7,536.6L274.7,536.7L277.1,536.7L277.1,536.0L279.5,536.0L279.5,537.7L281.9,537.7L281.9,537.3L284.3,537.3L284.3,538.4L286.7,538.4L286.7,536.3L289.1,536.3L289.1,536.5L291.5,536.5L291.5,536.8L293.9,536.8L293.9,537.6L296.2,537.6L296.2,537.8L298.6,537.8L298.6,537.2L301.0,537.2L301.0,538.0L303.4,538.0L303.4,536.9L305.8,536.9L305.8,536.7L308.2,536.7L308.2,538.1L310.6,538.1L310.6,537.2L313.0,537.2L313.0,537.4L315.4,537.4L315.4,537.6L317.8,537.6L317.8,536.9L320.1,536.9L320.1,537.4L322.5,537.4L322.5,537.6L324.9,537.6L324.9,537.5L327.3,537.5L327.3,537.8L329.7,537.8L329.7,535.8L332.1,535.8L332.1,535.9L334.5,535.9L334.5,535.8L336.9,535.8L336.9,534.8L339.3,534.8L339.3,536.5L341.7,536.5L341.7,535.8L344.0,535.8L344.0,535.5L346.4,535.5L346.4,537.4L348.8,537.4L348.8,534.1L351.2,534.1L351.2,536.0L353.6,536.0L353.6,537.2L356.0,537.2L356.0,535.0L358.4,535.0L358.4,536.1L360.8,536.1L360.8,535.3L363.2,535.3L363.2,535.7L365.6,535.7L365.6,536.1L368.0,536.1L368.0,535.0L370.3,535.0L370.3,536.3L372.7,536.3L372.7,534.8L375.1,534.8L375.1,535.7L377.5,535.7L377.5,536.4L379.9,536.4L379.9,536.4L382.3,536.4L382.3,535.4L384.7,535.4L384.7,534.1L387.1,534.1L387.1,535.4L389.5,535.4L389.5,535.5L391.9,535.5L391.9,536.1L394.2,536.1L394.2,535.3L396.6,535.3L396.6,536.1L399.0,536.1L399.0,535.5L401.4,535.5L401.4,535.7L403.8,535.7L403.8,536.2L406.2,536.2L406.2,535.0L408.6,535.0L408.6,534.9L411.0,534.9L411.0,535.5L413.4,535.5L413.4,535.8L415.8,535.8L415.8,535.4L418.1,535.4L418.1,536.4L420.5,536.4L420.5,535.5L422.9,535.5L422.9,536.0L425.3,536.0L425.3,535.0L427.7,535.0L427.7,536.1L430.1,536.1L430.1,536.0L432.5,536.0L432.5,536.2L434.9,536.2L434.9,535.7L437.3,535.7L437.3,536.2L439.7,536.2L439.7,536.3L442.1,536.3L442.1,535.9L444.4,535.9L444.4,535.2L446.8,535.2L446.8,535.7L449.2,535.7L449.2,535.2L451.6,535.2L451.6,535.8L454.0,535.8L454.0,535.2L456.4,535.2L456.4,535.6L458.8,535.6L458.8,535.8L461.2,535.8L461.2,536.3L463.6,536.3L463.6,535.9L466.0,535.9L466.0,535.7L468.3,535.7L468.3,536.1L470.7,536.1L470.7,535.9L473.1,535.9L473.1,536.9L475.5,536.9L475.5,535.3L477.9,535.3L477.9,536.4L480.3,536.4L480.3,536.1L482.7,536.1L482.7,535.6L485.1,535.6L485.1,536.1L487.5,536.1L487.5,536.0L489.9,536.0L489.9,535.2L492.2,535.2L492.2,535.3L494.6,535.3L494.6,535.4L497.0,535.4L497.0,536.4L499.4,536.4L499.4,536.1L501.8,536.1L501.8,535.1L504.2,535.1L504.2,535.8L506.6,535.8L506.6,534.8L509.0,534.8L509.0,537.2L511.4,537.2L511.4,534.8L513.8,534.8L513.8,535.1L516.2,535.1L516.2,535.4L518.5,535.4L518.5,535.0L520.9,535.0L520.9,536.3L523.3,536.3L523.3,534.2L525.7,534.2L525.7,535.4L528.1,535.4L528.1,536.0L530.5,536.0L530.5,535.4L532.9,535.4L532.9,536.4L535.3,536.4L535.3,535.9L537.7,535.9L537.7,534.9L540.1,534.9L540.1,536.1L542.4,536.1L542.4,535.4L544.8,535.4L544.8,535.6L547.2,535.6L547.2,535.0L549.6,535.0L549.6,536.2L552.0,536.2L552.0,535.6L554.4,535.6L554.4,535.6L556.8,535.6L556.8,535.0L559.2,535.0L559.2,536.4L561.6,536.4L561.6,536.5L564.0,536.5L564.0,536.3L566.3,536.3L566.3,535.2L568.7,535.2L568.7,536.0L571.1,536.0L571.1,535.3L573.5,535.3L573.5,535.3L575.9,535.3L575.9,535.8L578.3,535.8L578.3,535.4L580.7,535.4L580.7,581.9Z" fill="#279bc9"/>
<path d="M181.5,581.9L181.5,565.8L183.9,565.8L183.9,564.7L186.3,564.7L186.3,571.7L188.7,571.7L188.7,574.2L191.1,574.2L191.1,573.8L193.5,573.8L193.5,571.8L195.9,571.8L195.9,570.6L198.2,570.6L198.2,573.2L200.6,573.2L200.6,573.2L203.0,573.2L203.0,571.0L205.4,571.0L205.4,571.1L207.8,571.1L207.8,577.3L210.2,577.3L210.2,577.1L212.6,577.1L212.6,576.9L215.0,576.9L215.0,575.3L217.4,575.3L217.4,576.0L219.8,576.0L219.8,575.3L222.1,575.3L222.1,580.0L224.5,580.0L224.5,580.1L226.9,580.1L226.9,580.0L229.3,580.0L229.3,579.5L231.7,579.5L231.7,579.4L234.1,579.4L234.1,579.2L236.5,579.2L236.5,579.3L238.9,579.3L238.9,579.2L241.3,579.2L241.3,579.4L243.7,579.4L243.7,579.5L246.0,579.5L246.0,579.2L248.4,579.2L248.4,578.8L250.8,578.8L250.8,577.4L253.2,577.4L253.2,578.3L255.6,578.3L255.6,578.5L258.0,578.5L258.0,575.8L260.4,575.8L260.4,575.0L262.8,575.0L262.8,575.0L265.2,575.0L265.2,574.0L267.6,574.0L267.6,573.8L269.9,573.8L269.9,570.0L272.3,570.0L272.3,573.8L274.7,573.8L274.7,572.3L277.1,572.3L277.1,570.8L279.5,570.8L279.5,571.7L281.9,571.7L281.9,569.9L284.3,569.9L284.3,575.8L286.7,575.8L286.7,576.0L289.1,576.0L289.1,572.3L291.5,572.3L291.5,573.3L293.9,573.3L293.9,572.9L296.2,572.9L296.2,573.1L298.6,573.1L298.6,569.5L301.0,569.5L301.0,574.2L303.4,574.2L303.4,574.2L305.8,574.2L305.8,575.1L308.2,575.1L308.2,568.9L310.6,568.9L310.6,568.5L313.0,568.5L313.0,575.9L315.4,575.9L315.4,575.3L317.8,575.3L317.8,570.3L320.1,570.3L320.1,572.5L322.5,572.5L322.5,572.4L324.9,572.4L324.9,571.9L327.3,571.9L327.3,571.6L329.7,571.6L329.7,575.1L332.1,575.1L332.1,575.6L334.5,575.6L334.5,578.7L336.9,578.7L336.9,578.7L339.3,578.7L339.3,578.2L341.7,578.2L341.7,578.3L344.0,578.3L344.0,580.1L346.4,580.1L346.4,580.1L348.8,580.1L348.8,579.7L351.2,579.7L351.2,577.3L353.6,577.3L353.6,577.1L356.0,577.1L356.0,580.3L358.4,580.3L358.4,580.5L360.8,580.5L360.8,580.5L363.2,580.5L363.2,580.5L365.6,580.5L365.6,580.4L368.0,580.4L368.0,580.5L370.3,580.5L370.3,580.5L372.7,580.5L372.7,580.7L375.1,580.7L375.1,578.5L377.5,578.5L377.5,578.3L379.9,578.3L379.9,578.3L382.3,578.3L382.3,578.5L384.7,578.5L384.7,578.7L387.1,578.7L387.1,578.2L389.5,578.2L389.5,577.1L391.9,577.1L391.9,576.7L394.2,576.7L394.2,577.0L396.6,577.0L396.6,576.7L399.0,576.7L399.0,573.2L401.4,573.2L401.4,573.5L403.8,573.5L403.8,572.7L406.2,572.7L406.2,577.1L408.6,577.1L408.6,576.3L411.0,576.3L411.0,576.0L413.4,576.0L413.4,576.7L415.8,576.7L415.8,575.7L418.1,575.7L418.1,574.9L420.5,574.9L420.5,575.1L422.9,575.1L422.9,575.6L425.3,575.6L425.3,575.6L427.7,575.6L427.7,575.1L430.1,575.1L430.1,576.0L432.5,576.0L432.5,578.9L434.9,578.9L434.9,578.2L437.3,578.2L437.3,578.6L439.7,578.6L439.7,578.7L442.1,578.7L442.1,580.5L444.4,580.5L444.4,580.4L446.8,580.4L446.8,580.5L449.2,580.5L449.2,580.6L451.6,580.6L451.6,580.4L454.0,580.4L454.0,580.5L456.4,580.5L456.4,580.4L458.8,580.4L458.8,580.5L461.2,580.5L461.2,580.5L463.6,580.5L463.6,580.5L466.0,580.5L466.0,580.4L468.3,580.4L468.3,580.5L470.7,580.5L470.7,580.6L473.1,580.6L473.1,580.7L475.5,580.7L475.5,580.5L477.9,580.5L477.9,578.2L480.3,578.2L480.3,578.8L482.7,578.8L482.7,578.5L485.1,578.5L485.1,578.9L487.5,578.9L487.5,578.4L489.9,578.4L489.9,578.7L492.2,578.7L492.2,573.7L494.6,573.7L494.6,578.1L497.0,578.1L497.0,578.3L499.4,578.3L499.4,578.0L501.8,578.0L501.8,578.6L504.2,578.6L504.2,578.5L506.6,578.5L506.6,578.8L509.0,578.8L509.0,578.4L511.4,578.4L511.4,578.7L513.8,578.7L513.8,578.2L516.2,578.2L516.2,578.7L518.5,578.7L518.5,574.9L520.9,574.9L520.9,573.9L523.3,573.9L523.3,573.8L525.7,573.8L525.7,575.0L528.1,575.0L528.1,577.2L530.5,577.2L530.5,572.9L532.9,572.9L532.9,571.6L535.3,571.6L535.3,572.8L537.7,572.8L537.7,571.5L540.1,571.5L540.1,572.1L542.4,572.1L542.4,575.6L544.8,575.6L544.8,576.1L547.2,576.1L547.2,575.6L549.6,575.6L549.6,575.0L552.0,575.0L552.0,580.8L554.4,580.8L554.4,580.8L556.8,580.8L556.8,580.8L559.2,580.8L559.2,578.7L561.6,578.7L561.6,578.4L564.0,578.4L564.0,578.7L566.3,578.7L566.3,578.2L568.7,578.2L568.7,580.4L571.1,580.4L571.1,580.5L573.5,580.5L573.5,580.6L575.9,580.6L575.9,580.4L578.3,580.4L578.3,581.9Z" fill="#8dc63f"/>
<rect x="582.0" y="530.5" width="15.5" height="53.4" fill="#d9d9d9"/>
<text x="589.5" y="560.1" font-size="8.2" fill="#111" text-anchor="middle">9</text>
<rect x="34.4" y="589.1" width="547.6" height="53.4" fill="#f0f8ff"/>
<path d="M39.1,589.1V642.5M55.9,589.1V642.5M72.7,589.1V642.5M89.4,589.1V642.5M106.2,589.1V642.5M122.9,589.1V642.5M139.7,589.1V642.5M156.4,589.1V642.5M173.2,589.1V642.5M189.9,589.1V642.5M206.7,589.1V642.5M223.4,589.1V642.5M240.2,589.1V642.5M256.9,589.1V642.5M273.6,589.1V642.5M290.4,589.1V642.5M307.1,589.1V642.5M323.9,589.1V642.5M340.6,589.1V642.5M357.4,589.1V642.5M374.1,589.1V642.5M390.9,589.1V642.5M407.6,589.1V642.5M424.4,589.1V642.5M441.1,589.1V642.5M457.9,589.1V642.5M474.6,589.1V642.5M491.4,589.1V642.5M508.1,589.1V642.5M524.9,589.1V642.5M541.6,589.1V642.5M558.4,589.1V642.5M575.1,589.1V642.5M34.4,640.5H582.0M34.4,634.4H582.0M34.4,628.3H582.0M34.4,622.3H582.0M34.4,616.2H582.0M34.4,610.2H582.0M34.4,604.1H582.0M34.4,598.0H582.0M34.4,592.0H582.0" stroke="#fff" stroke-width="0.6" fill="none" opacity="0.6"/>
<path d="M109.8,640.5L109.8,639.9L112.2,639.9L112.2,640.5ZM162.4,640.5L162.4,638.2L164.8,638.2L164.8,638.2L167.2,638.2L167.2,638.2L169.6,638.2L169.6,638.2L171.9,638.2L171.9,638.2L174.3,638.2L174.3,638.2L176.7,638.2L176.7,638.2L179.1,638.2L179.1,638.2L181.5,638.2L181.5,638.2L183.9,638.2L183.9,638.2L186.3,638.2L186.3,638.2L188.7,638.2L188.7,638.2L191.1,638.2L191.1,638.2L193.5,638.2L193.5,638.2L195.9,638.2L195.9,638.2L198.2,638.2L198.2,638.2L200.6,638.2L200.6,638.2L203.0,638.2L203.0,638.2L205.4,638.2L205.4,638.2L207.8,638.2L207.8,621.6L210.2,621.6L210.2,611.1L212.6,611.1L212.6,609.8L215.0,609.8L215.0,611.3L217.4,611.3L217.4,611.0L219.8,611.0L219.8,610.9L222.1,610.9L222.1,609.7L224.5,609.7L224.5,609.2L226.9,609.2L226.9,608.8L229.3,608.8L229.3,599.9L231.7,599.9L231.7,600.3L234.1,600.3L234.1,600.5L236.5,600.5L236.5,599.7L238.9,599.7L238.9,600.5L241.3,600.5L241.3,599.4L243.7,599.4L243.7,598.3L246.0,598.3L246.0,598.1L248.4,598.1L248.4,598.3L250.8,598.3L250.8,597.4L253.2,597.4L253.2,597.2L255.6,597.2L255.6,597.3L258.0,597.3L258.0,599.4L260.4,599.4L260.4,596.7L262.8,596.7L262.8,594.0L265.2,594.0L265.2,594.6L267.6,594.6L267.6,595.4L269.9,595.4L269.9,594.4L272.3,594.4L272.3,594.0L274.7,594.0L274.7,593.5L277.1,593.5L277.1,595.0L279.5,595.0L279.5,594.8L281.9,594.8L281.9,593.6L284.3,593.6L284.3,593.7L286.7,593.7L286.7,595.0L289.1,595.0L289.1,593.6L291.5,593.6L291.5,594.1L293.9,594.1L293.9,593.6L296.2,593.6L296.2,595.8L298.6,595.8L298.6,593.4L301.0,593.4L301.0,593.7L303.4,593.7L303.4,593.1L305.8,593.1L305.8,593.7L308.2,593.7L308.2,593.7L310.6,593.7L310.6,594.0L313.0,594.0L313.0,594.8L315.4,594.8L315.4,593.6L317.8,593.6L317.8,594.6L320.1,594.6L320.1,593.6L322.5,593.6L322.5,594.1L324.9,594.1L324.9,594.0L327.3,594.0L327.3,594.6L329.7,594.6L329.7,594.1L332.1,594.1L332.1,594.8L334.5,594.8L334.5,594.1L336.9,594.1L336.9,594.6L339.3,594.6L339.3,595.2L341.7,595.2L341.7,594.8L344.0,594.8L344.0,595.2L346.4,595.2L346.4,594.1L348.8,594.1L348.8,595.0L351.2,595.0L351.2,593.9L353.6,593.9L353.6,594.9L356.0,594.9L356.0,594.6L358.4,594.6L358.4,595.1L360.8,595.1L360.8,593.3L363.2,593.3L363.2,595.0L365.6,595.0L365.6,595.7L368.0,595.7L368.0,594.8L370.3,594.8L370.3,594.5L372.7,594.5L372.7,594.3L375.1,594.3L375.1,594.3L377.5,594.3L377.5,596.0L379.9,596.0L379.9,593.6L382.3,593.6L382.3,595.1L384.7,595.1L384.7,594.9L387.1,594.9L387.1,596.4L389.5,596.4L389.5,595.8L391.9,595.8L391.9,594.9L394.2,594.9L394.2,596.3L396.6,596.3L396.6,594.9L399.0,594.9L399.0,594.8L401.4,594.8L401.4,594.7L403.8,594.7L403.8,595.3L406.2,595.3L406.2,594.1L408.6,594.1L408.6,595.3L411.0,595.3L411.0,593.8L413.4,593.8L413.4,595.0L415.8,595.0L415.8,593.8L418.1,593.8L418.1,594.5L420.5,594.5L420.5,595.1L422.9,595.1L422.9,594.3L425.3,594.3L425.3,594.2L427.7,594.2L427.7,594.7L430.1,594.7L430.1,595.3L432.5,595.3L432.5,593.8L434.9,593.8L434.9,595.2L437.3,595.2L437.3,595.0L439.7,595.0L439.7,595.0L442.1,595.0L442.1,593.1L444.4,593.1L444.4,592.9L446.8,592.9L446.8,594.0L449.2,594.0L449.2,593.3L451.6,593.3L451.6,593.8L454.0,593.8L454.0,593.1L456.4,593.1L456.4,594.2L458.8,594.2L458.8,593.4L461.2,593.4L461.2,593.6L463.6,593.6L463.6,593.2L466.0,593.2L466.0,593.5L468.3,593.5L468.3,594.0L470.7,594.0L470.7,594.3L473.1,594.3L473.1,593.0L475.5,593.0L475.5,594.3L477.9,594.3L477.9,593.5L480.3,593.5L480.3,594.4L482.7,594.4L482.7,593.5L485.1,593.5L485.1,594.3L487.5,594.3L487.5,594.0L489.9,594.0L489.9,593.6L492.2,593.6L492.2,592.8L494.6,592.8L494.6,593.7L497.0,593.7L497.0,592.1L499.4,592.1L499.4,595.4L501.8,595.4L501.8,595.5L504.2,595.5L504.2,594.2L506.6,594.2L506.6,595.4L509.0,595.4L509.0,595.8L511.4,595.8L511.4,596.3L513.8,596.3L513.8,596.4L516.2,596.4L516.2,595.9L518.5,595.9L518.5,595.5L520.9,595.5L520.9,594.1L523.3,594.1L523.3,595.4L525.7,595.4L525.7,595.6L528.1,595.6L528.1,592.9L530.5,592.9L530.5,595.2L532.9,595.2L532.9,593.7L535.3,593.7L535.3,593.9L537.7,593.9L537.7,593.6L540.1,593.6L540.1,594.2L542.4,594.2L542.4,593.9L544.8,593.9L544.8,593.6L547.2,593.6L547.2,595.5L549.6,595.5L549.6,592.6L552.0,592.6L552.0,594.0L554.4,594.0L554.4,593.9L556.8,593.9L556.8,593.6L559.2,593.6L559.2,594.4L561.6,594.4L561.6,594.1L564.0,594.1L564.0,593.8L566.3,593.8L566.3,592.8L568.7,592.8L568.7,592.6L571.1,592.6L571.1,593.4L573.5,593.4L573.5,593.1L575.9,593.1L575.9,593.5L578.3,593.5L578.3,593.6L580.7,593.6L580.7,640.5Z" fill="#279bc9"/>
<path d="M212.6,640.5L212.6,635.9L215.0,635.9L215.0,635.5L217.4,635.5L217.4,633.7L219.8,633.7L219.8,633.6L222.1,633.6L222.1,635.5L224.5,635.5L224.5,636.2L226.9,636.2L226.9,635.5L229.3,635.5L229.3,634.4L231.7,634.4L231.7,634.6L234.1,634.6L234.1,633.5L236.5,633.5L236.5,636.5L238.9,636.5L238.9,636.5L241.3,636.5L241.3,636.5L243.7,636.5L243.7,639.9L246.0,639.9L246.0,639.9L248.4,639.9L248.4,639.9L250.8,639.9L250.8,634.3L253.2,634.3L253.2,635.1L255.6,635.1L255.6,633.7L258.0,633.7L258.0,639.9L260.4,639.9L260.4,639.9L262.8,639.9L262.8,639.9L265.2,639.9L265.2,637.8L267.6,637.8L267.6,637.6L269.9,637.6L269.9,638.4L272.3,638.4L272.3,638.2L274.7,638.2L274.7,638.3L277.1,638.3L277.1,638.1L279.5,638.1L279.5,638.1L281.9,638.1L281.9,638.0L284.3,638.0L284.3,638.4L286.7,638.4L286.7,638.4L289.1,638.4L289.1,639.3L291.5,639.3L291.5,639.3L293.9,639.3L293.9,639.3L296.2,639.3L296.2,639.3L298.6,639.3L298.6,636.3L301.0,636.3L301.0,635.9L303.4,635.9L303.4,638.2L305.8,638.2L305.8,638.1L308.2,638.1L308.2,638.3L310.6,638.3L310.6,638.0L313.0,638.0L313.0,639.9L315.4,639.9L315.4,639.9L317.8,639.9L317.8,638.0L320.1,638.0L320.1,638.3L322.5,638.3L322.5,638.3L324.9,638.3L324.9,639.9L327.3,639.9L327.3,639.9L329.7,639.9L329.7,639.9L332.1,639.9L332.1,638.9L334.5,638.9L334.5,639.1L336.9,639.1L336.9,638.9L339.3,638.9L339.3,639.2L341.7,639.2L341.7,639.0L344.0,639.0L344.0,640.3L346.4,640.3L346.4,640.3L348.8,640.3L348.8,640.3L351.2,640.3L351.2,640.3L353.6,640.3L353.6,638.9L356.0,638.9L356.0,638.2L358.4,638.2L358.4,640.3L360.8,640.3L360.8,640.3L363.2,640.3L363.2,640.3L365.6,640.3L365.6,640.3L368.0,640.3L368.0,640.3L370.3,640.3L370.3,640.3L372.7,640.3L372.7,638.7L375.1,638.7L375.1,638.7L377.5,638.7L377.5,638.6L379.9,638.6L379.9,638.6L382.3,638.6L382.3,638.9L384.7,638.9L384.7,638.9L387.1,638.9L387.1,638.6L389.5,638.6L389.5,636.9L391.9,636.9L391.9,637.6L394.2,637.6L394.2,634.5L396.6,634.5L396.6,634.0L399.0,634.0L399.0,633.5L401.4,633.5L401.4,631.9L403.8,631.9L403.8,632.0L406.2,632.0L406.2,629.4L408.6,629.4L408.6,628.6L411.0,628.6L411.0,630.6L413.4,630.6L413.4,632.1L415.8,632.1L415.8,631.7L418.1,631.7L418.1,630.6L420.5,630.6L420.5,634.5L422.9,634.5L422.9,633.8L425.3,633.8L425.3,630.5L427.7,630.5L427.7,635.5L430.1,635.5L430.1,632.4L432.5,632.4L432.5,635.8L434.9,635.8L434.9,634.9L437.3,634.9L437.3,634.2L439.7,634.2L439.7,635.2L442.1,635.2L442.1,635.1L444.4,635.1L444.4,635.8L446.8,635.8L446.8,635.2L449.2,635.2L449.2,637.9L451.6,637.9L451.6,637.4L454.0,637.4L454.0,637.7L456.4,637.7L456.4,635.3L458.8,635.3L458.8,635.3L461.2,635.3L461.2,635.5L463.6,635.5L463.6,633.8L466.0,633.8L466.0,633.8L468.3,633.8L468.3,633.8L470.7,633.8L470.7,634.0L473.1,634.0L473.1,632.9L475.5,632.9L475.5,632.3L477.9,632.3L477.9,631.4L480.3,631.4L480.3,628.8L482.7,628.8L482.7,629.7L485.1,629.7L485.1,632.5L487.5,632.5L487.5,632.1L489.9,632.1L489.9,632.8L492.2,632.8L492.2,634.1L494.6,634.1L494.6,633.9L497.0,633.9L497.0,635.1L499.4,635.1L499.4,635.1L501.8,635.1L501.8,634.3L504.2,634.3L504.2,634.6L506.6,634.6L506.6,635.0L509.0,635.0L509.0,634.1L511.4,634.1L511.4,634.4L513.8,634.4L513.8,634.9L516.2,634.9L516.2,635.9L518.5,635.9L518.5,635.3L520.9,635.3L520.9,635.3L523.3,635.3L523.3,635.4L525.7,635.4L525.7,632.4L528.1,632.4L528.1,634.9L530.5,634.9L530.5,632.1L532.9,632.1L532.9,635.2L535.3,635.2L535.3,634.8L537.7,634.8L537.7,634.3L540.1,634.3L540.1,634.3L542.4,634.3L542.4,637.5L544.8,637.5L544.8,637.5L547.2,637.5L547.2,637.9L549.6,637.9L549.6,637.4L552.0,637.4L552.0,637.9L554.4,637.9L554.4,637.4L556.8,637.4L556.8,639.9L559.2,639.9L559.2,639.9L561.6,639.9L561.6,639.2L564.0,639.2L564.0,638.9L566.3,638.9L566.3,640.2L568.7,640.2L568.7,640.2L571.1,640.2L571.1,640.2L573.5,640.2L573.5,640.2L575.9,640.2L575.9,640.2L578.3,640.2L578.3,640.5Z" fill="#8dc63f"/>
<rect x="582.0" y="589.1" width="15.5" height="53.4" fill="#d9d9d9"/>
<text x="589.5" y="618.7" font-size="8.2" fill="#111" text-anchor="middle">10</text>
<text x="55.9" y="651.1" font-size="7.6" fill="#4d4d4d" text-anchor="middle">Mar-10</text>
<text x="89.4" y="651.1" font-size="7.6" fill="#4d4d4d" text-anchor="middle">Mar-24</text>
<text x="122.9" y="651.1" font-size="7.6" fill="#4d4d4d" text-anchor="middle">Apr-07</text>
<text x="156.4" y="651.1" font-size="7.6" fill="#4d4d4d" text-anchor="middle">Apr-21</text>
<text x="189.9" y="651.1" font-size="7.6" fill="#4d4d4d" text-anchor="middle">May-05</text>
<text x="223.4" y="651.1" font-size="7.6" fill="#4d4d4d" text-anchor="middle">May-19</text>
<text x="256.9" y="651.1" font-size="7.6" fill="#4d4d4d" text-anchor="middle">Jun-02</text>
<text x="290.4" y="651.1" font-size="7.6" fill="#4d4d4d" text-anchor="middle">Jun-16</text>
<text x="323.9" y="651.1" font-size="7.6" fill="#4d4d4d" text-anchor="middle">Jun-30</text>
<text x="357.4" y="651.1" font-size="7.6" fill="#4d4d4d" text-anchor="middle">Jul-14</text>
<text x="390.9" y="651.1" font-size="7.6" fill="#4d4d4d" text-anchor="middle">Jul-28</text>
<text x="424.4" y="651.1" font-size="7.6" fill="#4d4d4d" text-anchor="middle">Aug-11</text>
<text x="457.9" y="651.1" font-size="7.6" fill="#4d4d4d" text-anchor="middle">Aug-25</text>
<text x="491.4" y="651.1" font-size="7.6" fill="#4d4d4d" text-anchor="middle">Sep-08</text>
<text x="524.9" y="651.1" font-size="7.6" fill="#4d4d4d" text-anchor="middle">Sep-22</text>
<text x="558.4" y="651.1" font-size="7.6" fill="#4d4d4d" text-anchor="middle">Oct-06</text>
<path d="M55.9,642.5v2.6M89.4,642.5v2.6M122.9,642.5v2.6M156.4,642.5v2.6M189.9,642.5v2.6M223.4,642.5v2.6M256.9,642.5v2.6M290.4,642.5v2.6M323.9,642.5v2.6M357.4,642.5v2.6M390.9,642.5v2.6M424.4,642.5v2.6M457.9,642.5v2.6M491.4,642.5v2.6M524.9,642.5v2.6M558.4,642.5v2.6" stroke="#333" stroke-width="0.7" fill="none"/>
<text x="308" y="662.5" font-size="10" fill="#000" text-anchor="middle">Date</text>
<clipPath id="mc"><rect x="620.5" y="58.8" width="326.0" height="596.9"/></clipPath>
<rect x="620.5" y="58.8" width="326.0" height="596.9" fill="#f0f8ff"/>
<g clip-path="url(#mc)">
<path d="M690.5,58.8L678.5,655.7M761.3,58.8L755.5,655.7M833.6,58.8L833.6,655.7M902.0,58.8L909.5,655.7M620.5,63.0L946.5,63.0M620.5,154.0L946.5,154.5M620.5,247.0L946.5,247.5M620.5,340.0L946.5,341.0M620.5,435.5L946.5,436.5M620.5,530.0L946.5,531.0M620.5,623.0L946.5,624.0" stroke="#fff" stroke-width="0.9" fill="none"/>
<path d="M655.7,87.5L657.6,85.9L660.0,86.0L662.5,86.3L665.0,86.3L667.6,86.7L670.0,88.0L672.1,88.9L674.3,89.6L676.6,89.8L679.6,89.0L682.0,91.0L684.8,90.7L686.0,93.3L685.2,95.8L687.5,97.8L687.1,100.3L687.2,102.9L684.0,104.4L684.8,107.3L685.8,109.0L685.5,111.3L687.5,112.5L688.3,114.3L687.4,116.0L688.5,118.3L686.5,119.8L685.2,121.4L686.0,123.6L684.8,125.2L683.0,126.4L682.0,128.2L682.5,131.0L680.1,131.8L680.5,134.3L682.2,136.1L684.2,137.6L684.8,140.0L687.3,140.7L686.1,144.0L688.4,144.9L688.9,147.1L689.6,149.0L691.2,150.4L693.0,151.6L692.5,154.1L695.0,155.5L694.5,158.0L696.5,159.5L695.8,162.2L696.8,164.1L698.8,165.6L700.5,167.3L700.8,169.3L700.9,171.3L698.8,173.7L700.9,175.3L701.1,177.3L702.2,179.3L704.6,180.4L705.5,182.6L707.0,184.3L709.0,184.6L710.8,185.2L712.4,186.6L714.2,187.3L715.7,188.9L717.8,188.9L719.8,189.0L717.3,190.6L717.5,193.6L717.9,196.0L718.9,197.8L721.1,198.7L723.8,199.1L723.3,202.2L725.6,203.0L725.2,205.5L726.4,207.0L728.4,208.1L729.0,210.0L731.4,210.8L730.6,213.5L732.6,214.6L733.5,216.6L735.4,217.9L737.1,219.3L735.9,222.5L736.6,224.6L739.1,225.6L739.6,222.8L743.0,222.4L743.8,219.8L743.7,221.8L744.1,223.9L743.2,225.7L741.2,227.2L740.4,229.0L742.7,231.5L740.4,233.0L740.3,235.0L742.6,236.4L741.3,239.3L743.3,240.8L742.4,243.5L742.9,245.6L745.3,247.0L746.1,249.0L745.7,251.6L748.7,252.2L750.4,253.5L749.9,256.2L752.6,256.9L753.1,259.0L753.5,261.1L754.3,263.0L754.2,265.4L756.0,267.5L756.7,269.8L755.4,272.3L758.1,272.2L759.2,269.4L762.3,270.1L763.6,267.6L761.4,268.6L762.0,271.2L760.7,272.7L759.5,274.3L758.2,275.7L757.3,277.5L756.6,279.3L757.3,281.1L758.0,283.0L757.9,285.2L760.1,286.3L761.2,287.9L761.2,290.1L763.5,291.2L763.6,293.3L765.0,295.0L763.7,297.8L765.9,299.2L766.6,301.2L769.1,302.4L768.3,305.0L769.0,306.9L768.8,308.9L771.1,310.5L769.4,312.8L769.8,314.8L770.6,316.6L772.1,314.7L774.5,316.1L776.2,315.1L778.3,315.4L780.0,314.3L779.9,316.5L778.1,318.2L777.5,320.2L779.2,322.9L778.5,324.9L775.9,326.4L774.4,328.1L775.3,330.6L776.7,332.4L776.6,334.7L776.8,336.8L778.2,338.6L778.7,340.7L779.4,342.7L779.8,344.8L780.0,347.0L781.4,348.9L783.3,350.3L785.5,350.6L787.2,351.8L788.5,353.9L791.5,352.6L792.6,355.0L794.0,356.7L795.2,358.7L797.8,359.2L799.5,360.5L799.7,363.5L802.0,364.3L803.7,365.8L804.8,367.5L805.0,369.8L805.1,372.0L806.6,373.6L808.6,375.0L808.7,377.3L809.5,379.2L808.7,381.8L810.7,383.3L811.3,385.3L811.7,387.7L814.8,387.9L815.7,390.0L816.2,392.3L816.9,394.5L819.4,395.2L820.6,397.0L822.7,397.4L824.5,398.3L825.2,400.6L827.5,400.8L827.8,403.7L830.0,404.0L831.1,406.0L833.9,405.1L835.4,406.4L836.1,408.9L838.0,409.4L839.4,410.9L841.6,411.0L841.3,413.5L841.3,416.1L839.3,418.0L841.4,419.3L841.7,422.2L844.6,422.7L845.6,425.0L847.6,425.8L849.1,427.1L850.8,428.3L852.5,429.5L853.1,432.1L856.3,431.2L857.3,433.3L859.1,430.9L862.4,433.2L864.3,431.0L864.2,433.5L864.9,435.4L867.6,436.3L867.1,439.0L868.2,440.8L871.3,441.4L870.8,444.1L871.6,446.1L873.6,447.3L875.4,448.2L877.5,448.1L879.6,447.7L881.5,448.3L883.5,448.3L885.3,449.6L887.2,451.1L885.9,453.4L887.4,455.0L886.2,457.3L889.2,458.6L886.8,461.2L888.0,462.9L887.7,464.9L888.2,466.8L890.0,468.3L888.8,470.4L890.1,472.2L892.1,474.0L889.8,476.2L891.9,478.0L891.0,480.0L893.0,480.1L894.3,482.0L896.3,482.4L898.2,482.8L899.2,485.2L901.6,484.6L901.8,486.7L903.3,488.3L904.1,490.2L902.7,492.7L904.5,494.3L904.1,496.6L906.1,498.1L907.2,499.9L906.7,502.2L906.3,504.4L909.0,505.7L908.5,508.0L908.9,510.3L909.8,512.3L911.4,513.8L912.6,515.6L916.1,515.7L916.0,518.4L917.8,519.8L919.4,521.6L922.0,521.5L922.3,524.0L920.7,525.4L919.7,527.1L917.9,528.4L917.2,530.3L916.1,532.0L915.0,533.7L914.3,535.8L917.2,537.4L917.3,539.3L917.3,541.3L917.6,543.2L918.1,545.2L915.3,547.5L915.9,549.4L917.4,551.2L917.8,553.6L915.6,554.8L915.3,556.9L914.4,558.7L913.4,560.5L912.0,562.1L910.2,563.4L909.0,565.2L908.2,567.4L906.5,568.7L908.7,569.0L910.0,570.6L911.9,571.2L912.6,573.5L914.3,574.5L912.2,575.0L911.0,577.1L909.8,579.1L907.3,579.0L909.6,578.6L911.3,579.9L913.0,581.3L914.8,582.6L917.2,581.9L918.6,584.0L920.8,584.1L922.9,584.1L924.8,585.0L925.6,586.8L925.6,588.8L925.4,590.9L926.7,592.6L926.2,594.7L927.4,596.4L928.6,598.2L928.0,600.3L927.9,602.3L930.4,603.8L929.4,606.0L929.1,608.0L928.5,609.9L926.5,611.4L925.7,613.3L927.0,615.8L926.0,617.6L924.0,619.2L923.6,621.4L924.6,624.1L923.2,626.0L922.4,628.0L920.1,628.6L918.9,625.7L916.8,625.6L915.1,624.2L913.0,623.9L911.0,623.7L909.1,622.8L907.0,622.7L905.0,622.3L903.2,623.7L901.2,622.2L899.4,624.3L897.4,623.9L895.4,621.9L893.6,624.4L891.7,624.4L889.8,624.5L887.8,621.9L886.0,624.4L884.0,623.4L881.2,622.5L881.8,618.8L879.3,617.6L877.0,616.7L877.6,613.6L875.8,612.3L874.9,610.3L873.9,608.4L871.5,607.5L870.0,606.0L870.1,603.6L866.9,602.6L867.6,600.0L866.8,597.5L864.6,596.2L863.0,594.3L862.0,592.5L859.2,592.8L859.1,589.8L858.0,588.1L854.6,589.1L853.7,587.1L852.7,585.2L851.8,583.3L849.0,583.5L847.4,582.4L846.6,580.3L844.6,579.5L844.1,577.2L843.0,575.5L840.7,575.0L839.3,573.6L838.0,572.1L836.4,570.9L835.2,569.3L833.0,568.7L832.6,566.3L831.0,565.1L830.3,562.7L827.6,563.1L826.6,561.0L824.5,560.5L825.4,557.9L828.0,557.0L827.4,554.8L826.4,552.8L825.0,551.0L823.3,549.4L822.1,547.6L822.4,545.7L823.4,543.8L823.3,541.8L822.8,539.4L819.6,539.8L818.1,538.5L818.3,535.5L817.2,533.7L814.9,533.2L813.3,532.0L812.5,529.9L810.6,529.0L807.9,529.2L805.7,528.1L803.6,526.6L802.1,524.8L802.9,522.5L801.5,520.8L800.7,518.8L801.7,516.4L802.1,514.2L800.1,512.6L799.6,510.5L801.1,508.7L800.3,506.6L802.0,504.7L801.2,502.6L800.3,500.5L801.3,498.6L799.9,497.0L798.8,495.3L799.9,493.0L799.1,491.3L799.0,489.3L796.8,488.7L795.9,486.8L794.4,485.5L794.1,483.0L792.0,482.3L789.6,482.6L788.7,479.2L786.1,480.0L784.3,478.9L782.2,478.5L780.3,477.6L780.6,474.9L779.8,472.6L778.0,470.6L777.2,468.6L776.0,466.8L775.7,464.5L775.1,462.3L772.8,461.1L772.1,459.0L771.0,457.0L769.9,455.0L767.2,454.9L765.0,454.1L764.0,452.0L761.8,451.7L761.0,449.3L759.3,448.3L758.1,446.5L756.3,445.7L753.5,446.4L751.7,445.5L750.6,443.6L748.9,442.0L747.7,440.2L748.3,437.5L747.8,435.3L747.0,433.3L744.8,432.0L744.2,430.0L746.4,428.2L744.8,426.1L745.3,424.2L746.6,422.3L746.0,420.3L743.8,419.0L742.8,417.0L744.1,413.9L741.4,412.8L740.6,410.8L740.1,408.6L740.4,406.6L740.7,404.6L738.4,402.6L739.5,400.6L739.9,398.6L740.1,396.6L740.1,394.6L738.0,394.0L737.4,391.8L736.9,389.6L734.2,389.7L733.1,388.0L730.7,387.8L729.6,386.1L729.1,383.9L727.3,383.0L724.9,382.5L725.3,379.1L723.9,377.6L720.5,378.1L721.0,374.6L718.2,374.5L717.7,372.1L715.6,371.3L714.5,369.3L711.9,369.2L711.0,366.8L709.3,365.6L708.0,363.8L705.2,364.0L704.0,362.0L703.3,360.0L702.5,358.0L700.5,357.2L698.8,356.1L696.5,355.6L696.1,353.2L694.4,352.1L693.5,350.3L693.7,348.1L693.1,346.2L692.2,344.2L690.5,342.6L691.5,340.2L690.9,338.2L690.0,336.3L688.5,334.7L690.4,332.3L689.2,330.6L687.1,329.1L689.3,326.6L686.3,325.3L686.5,323.3L686.6,321.3L686.8,319.2L685.9,317.4L685.2,315.5L685.0,313.5L683.8,311.8L682.8,310.0L681.8,308.2L681.0,306.4L682.6,303.9L682.2,302.0L680.8,300.3L680.7,298.4L681.2,296.4L679.7,294.6L679.2,292.8L679.4,290.8L680.8,288.7L677.8,287.1L679.1,285.0L678.1,283.2L679.6,281.1L678.5,279.3L677.3,277.6L676.6,275.8L676.1,273.8L675.8,271.8L675.0,270.0L675.2,267.7L673.2,266.2L674.1,263.6L671.1,262.4L670.9,260.2L669.7,258.4L670.3,256.0L668.2,254.8L669.4,252.1L668.4,250.4L665.8,249.5L665.0,247.7L664.8,245.6L664.9,243.4L663.3,242.0L663.6,239.7L662.7,237.7L661.5,235.9L659.4,234.4L659.6,232.1L659.2,230.0L657.7,228.1L658.3,225.7L658.0,223.5L656.3,221.7L656.8,219.3L655.1,218.1L655.6,215.5L652.4,215.1L653.7,212.1L652.9,210.3L652.1,208.5L649.8,207.6L648.6,206.0L648.2,204.0L647.4,202.2L646.3,200.6L646.4,198.5L647.2,196.3L645.9,194.5L644.3,192.7L645.9,190.4L644.3,188.6L644.0,186.6L644.5,184.6L645.1,182.7L642.8,180.5L645.6,178.7L645.4,176.6L645.0,174.6L645.2,172.6L644.9,170.3L644.3,168.0L644.0,165.6L643.5,163.3L645.1,161.6L644.0,159.2L646.0,157.6L647.0,155.7L646.8,153.6L647.5,151.6L647.3,149.6L648.3,147.4L647.7,145.5L644.8,144.1L646.6,141.7L645.2,140.0L644.9,138.0L642.4,136.8L642.7,134.5L641.6,132.8L641.7,130.6L639.5,129.4L639.9,126.8L640.2,124.4L637.4,123.4L637.0,121.3L639.0,119.7L639.4,117.5L638.5,114.7L640.5,113.1L642.9,113.0L644.2,111.1L646.5,110.9L647.5,108.5L649.3,106.8L650.6,104.8L650.6,102.1L652.2,100.3L653.8,98.4L654.8,96.4L655.1,94.2L654.3,91.7L656.0,89.9Z" fill="#fff" stroke="#6e6e6e" stroke-width="0.45" stroke-linejoin="round"/>
<path d="M647.5,115.5L687.0,113.8M644.6,171.6L682.5,171.6L682.5,164.6M687.6,164.6L698.5,164.6M682.5,171.9L684.7,177.7L690.5,181.3L687.6,186.4L688.3,196.6L696.3,198.8L694.1,208.3L692.7,220.0L690.5,222.9L690.5,240.4M657.0,211.2L692.7,209.8M692.7,220.0L712.0,220.0M653.3,182.8L651.9,193.7L654.0,200.0L656.2,208.3M713.0,220.4L731.5,213.9M722.8,250.0L737.0,244.5L745.7,252.1L750.1,265.2L747.3,274.0M719.5,275.1L747.3,274.4L755.6,281.6M719.5,275.1L723.9,287.1M720.6,295.8L718.4,309.0L707.5,312.2L706.4,302.4M756.7,295.8L758.7,320.0L759.8,337.2M758.9,322.0L775.2,320.0M707.3,313.1L708.4,332.8L689.8,339.3L691.0,346.0M708.4,332.8L716.0,333.9M716.0,361.2L704.0,363.4M759.8,328.4L800.0,372.1L812.0,388.0M720.4,320.8L745.6,318.6L759.8,328.4M733.6,378.7L745.6,370.0L756.5,367.8M755.4,405.0L763.0,398.4L787.1,387.4M881.8,465.6L886.2,465.6L886.2,477.6L876.3,477.6M868.7,495.1L873.1,495.1L873.1,502.7M830.0,553.4L915.2,551.9M869.3,494.4L869.3,552.3" fill="none" stroke="#858585" stroke-width="0.5"/>
<path d="M673.0,153.0L677.0,154.5L701.0,180.0L712.0,215.0L725.0,258.0L725.5,264.0L720.5,278.0L708.0,300.0L696.0,306.5L688.0,298.0L675.0,260.0L666.0,222.0L666.0,205.0L667.3,187.0Z" fill="#90c44c" fill-opacity="0.8" stroke="#a6d070" stroke-width="0.8" stroke-linejoin="round"/>
<path d="M723.3,293.5L761.0,335.5L757.6,358.0L747.3,396.5L729.6,378.3L715.0,361.0L715.2,343.0L717.0,325.0L720.5,305.0Z" fill="#90c44c" fill-opacity="0.8" stroke="#a6d070" stroke-width="0.8" stroke-linejoin="round"/>
<path d="M765.3,348.0L785.0,367.8L795.0,386.0L795.0,395.6L787.5,406.0L759.5,429.2L751.0,411.0L751.5,392.0L757.6,364.0Z" fill="#90c44c" fill-opacity="0.8" stroke="#a6d070" stroke-width="0.8" stroke-linejoin="round"/>
<path d="M796.0,412.0L820.0,418.0L836.3,438.0L827.0,456.6L820.0,459.0L811.8,457.8L792.0,417.0Z" fill="#90c44c" fill-opacity="0.8" stroke="#a6d070" stroke-width="0.8" stroke-linejoin="round"/>
<path d="M787.3,419.3L765.2,436.8L767.5,447.3L780.3,470.6L799.0,482.3L808.3,470.6L802.5,449.6L792.0,426.3Z" fill="#90c44c" fill-opacity="0.8" stroke="#a6d070" stroke-width="0.8" stroke-linejoin="round"/>
<path d="M857.3,436.8L873.6,447.3L879.4,464.8L876.0,477.6L866.6,501.0L853.8,510.3L845.6,503.3L830.5,480.0L827.0,461.3L833.7,446.5L846.8,439.3Z" fill="#90c44c" fill-opacity="0.8" stroke="#a6d070" stroke-width="0.8" stroke-linejoin="round"/>
<path d="M817.6,470.2L802.5,487.0L806.0,503.3L810.6,519.6L822.3,540.6L827.0,552.3L838.6,543.0L844.5,512.6L836.3,494.0L824.6,475.3Z" fill="#90c44c" fill-opacity="0.8" stroke="#a6d070" stroke-width="0.8" stroke-linejoin="round"/>
<path d="M883.2,499.2L901.0,507.0L906.0,520.0L912.0,538.3L902.6,559.3L895.6,565.0L888.6,561.6L872.3,547.6L864.1,522.0L867.6,505.6Z" fill="#90c44c" fill-opacity="0.8" stroke="#a6d070" stroke-width="0.8" stroke-linejoin="round"/>
<path d="M843.1,554.2L833.8,562.8L853.6,582.6L874.6,593.6L886.3,587.3L889.8,575.6L879.3,560.5L858.3,555.8Z" fill="#90c44c" fill-opacity="0.8" stroke="#a6d070" stroke-width="0.8" stroke-linejoin="round"/>
<path d="M899.1,568.6L907.3,571.0L914.3,574.5L907.3,579.0L924.8,585.0L929.4,606.0L922.4,627.0L884.0,615.3L893.3,582.6Z" fill="#90c44c" fill-opacity="0.8" stroke="#a6d070" stroke-width="0.8" stroke-linejoin="round"/>
<path d="" fill="none" stroke="#7fae55" stroke-width="0.4" opacity="0.6"/>
<rect x="690.0" y="236.1" width="10.6" height="11.8" rx="1.6" fill="#fff" stroke="#3a3a3a" stroke-width="0.6"/>
<text x="695.3" y="245.3" font-size="9.2" fill="#111" text-anchor="middle">1</text>
<rect x="732.6" y="335.8" width="10.6" height="11.8" rx="1.6" fill="#fff" stroke="#3a3a3a" stroke-width="0.6"/>
<text x="737.9" y="345.0" font-size="9.2" fill="#111" text-anchor="middle">2</text>
<rect x="768.0" y="382.4" width="10.6" height="11.8" rx="1.6" fill="#fff" stroke="#3a3a3a" stroke-width="0.6"/>
<text x="773.3" y="391.6" font-size="9.2" fill="#111" text-anchor="middle">3</text>
<rect x="805.9" y="420.3" width="10.6" height="11.8" rx="1.6" fill="#fff" stroke="#3a3a3a" stroke-width="0.6"/>
<text x="811.2" y="429.5" font-size="9.2" fill="#111" text-anchor="middle">4</text>
<rect x="782.7" y="448.6" width="10.6" height="11.8" rx="1.6" fill="#fff" stroke="#3a3a3a" stroke-width="0.6"/>
<text x="788.0" y="457.8" font-size="9.2" fill="#111" text-anchor="middle">5</text>
<rect x="847.8" y="466.6" width="10.6" height="11.8" rx="1.6" fill="#fff" stroke="#3a3a3a" stroke-width="0.6"/>
<text x="853.1" y="475.8" font-size="9.2" fill="#111" text-anchor="middle">6</text>
<rect x="820.4" y="512.9" width="10.6" height="11.8" rx="1.6" fill="#fff" stroke="#3a3a3a" stroke-width="0.6"/>
<text x="825.7" y="522.1" font-size="9.2" fill="#111" text-anchor="middle">7</text>
<rect x="882.2" y="524.8" width="10.6" height="11.8" rx="1.6" fill="#fff" stroke="#3a3a3a" stroke-width="0.6"/>
<text x="887.5" y="534.0" font-size="9.2" fill="#111" text-anchor="middle">8</text>
<rect x="857.7" y="562.7" width="10.6" height="11.8" rx="1.6" fill="#fff" stroke="#3a3a3a" stroke-width="0.6"/>
<text x="863.0" y="571.9" font-size="9.2" fill="#111" text-anchor="middle">9</text>
<rect x="900.8" y="593.5" width="13.0" height="11.8" rx="1.6" fill="#fff" stroke="#3a3a3a" stroke-width="0.6"/>
<text x="907.3" y="602.7" font-size="9.2" fill="#111" text-anchor="middle">10</text>
<circle cx="700.7" cy="178.0" r="1.9" fill="#000"/>
<rect x="704.2" y="172.6" width="28.4" height="11.6" rx="1.6" fill="#fff" stroke="#3a3a3a" stroke-width="0.6"/>
<text x="706.6" y="181.8" font-size="9.4" fill="#111">Chico</text>
<circle cx="723.3" cy="289.3" r="1.9" fill="#000"/>
<rect x="729.8" y="284.0" width="54.8" height="11.6" rx="1.6" fill="#fff" stroke="#3a3a3a" stroke-width="0.6"/>
<text x="732.2" y="293.2" font-size="9.4" fill="#111">Sacramento</text>
<circle cx="758.3" cy="375.5" r="1.9" fill="#000"/>
<rect x="762.8" y="369.7" width="40.8" height="11.6" rx="1.6" fill="#fff" stroke="#3a3a3a" stroke-width="0.6"/>
<text x="765.2" y="378.9" font-size="9.4" fill="#111">Modesto</text>
<circle cx="796.1" cy="409.8" r="1.9" fill="#000"/>
<rect x="799.6" y="404.0" width="36.2" height="11.6" rx="1.6" fill="#fff" stroke="#3a3a3a" stroke-width="0.6"/>
<text x="802.0" y="413.2" font-size="9.4" fill="#111">Merced</text>
<circle cx="848.0" cy="459.0" r="1.9" fill="#000"/>
<rect x="852.0" y="453.2" width="33.3" height="11.6" rx="1.6" fill="#fff" stroke="#3a3a3a" stroke-width="0.6"/>
<text x="854.4" y="462.4" font-size="9.4" fill="#111">Fresno</text>
<circle cx="883.5" cy="501.0" r="1.9" fill="#000"/>
<rect x="887.5" y="495.2" width="32.1" height="11.6" rx="1.6" fill="#fff" stroke="#3a3a3a" stroke-width="0.6"/>
<text x="889.9" y="504.4" font-size="9.4" fill="#111">Visalia</text>
<circle cx="908.9" cy="592.0" r="1.9" fill="#000"/>
<rect x="913.1" y="586.7" width="54.9" height="11.6" rx="1.6" fill="#fff" stroke="#3a3a3a" stroke-width="0.6"/>
<text x="915.5" y="595.9" font-size="9.4" fill="#111">Bakersfield</text>
</g>
<g>
<path d="M849.2,42.9A4.6,4.6 0 0 1 856.8,45.6" fill="none" stroke="#279bc9" stroke-width="1.5"/>
<path d="M847.2,40.5A7.6,7.6 0 0 1 859.6,45.3" fill="none" stroke="#279bc9" stroke-width="1.5"/>
<circle cx="852.2" cy="45.8" r="1.6" fill="#279bc9"/>
<path d="M850.8,47L843.8,46.5L844.1,51.4Q844.7,54 847.6,54.2L851.2,54.2" fill="none" stroke="#8dc63f" stroke-width="1.3"/>
<path d="M851.7,46.9V57.6" stroke="#8dc63f" stroke-width="1.3" fill="none"/>
<path d="M848.3,50.3L850.4,52.7" stroke="#8dc63f" stroke-width="1.1" fill="none"/>
<path d="M860,48C855,47.4 853.4,50.4 854.2,53.9C858,55 860.6,52.4 860,48Z" fill="#8dc63f"/>
<path d="M855.2,52.8L858.5,49.5" stroke="#fff" stroke-width="0.6" fill="none"/>
<text x="866" y="52.8" font-size="15.6" fill="#58595b" stroke="#58595b" stroke-width="0.25" letter-spacing="-0.1">semios</text>
</g>
</svg>
</body></html>
